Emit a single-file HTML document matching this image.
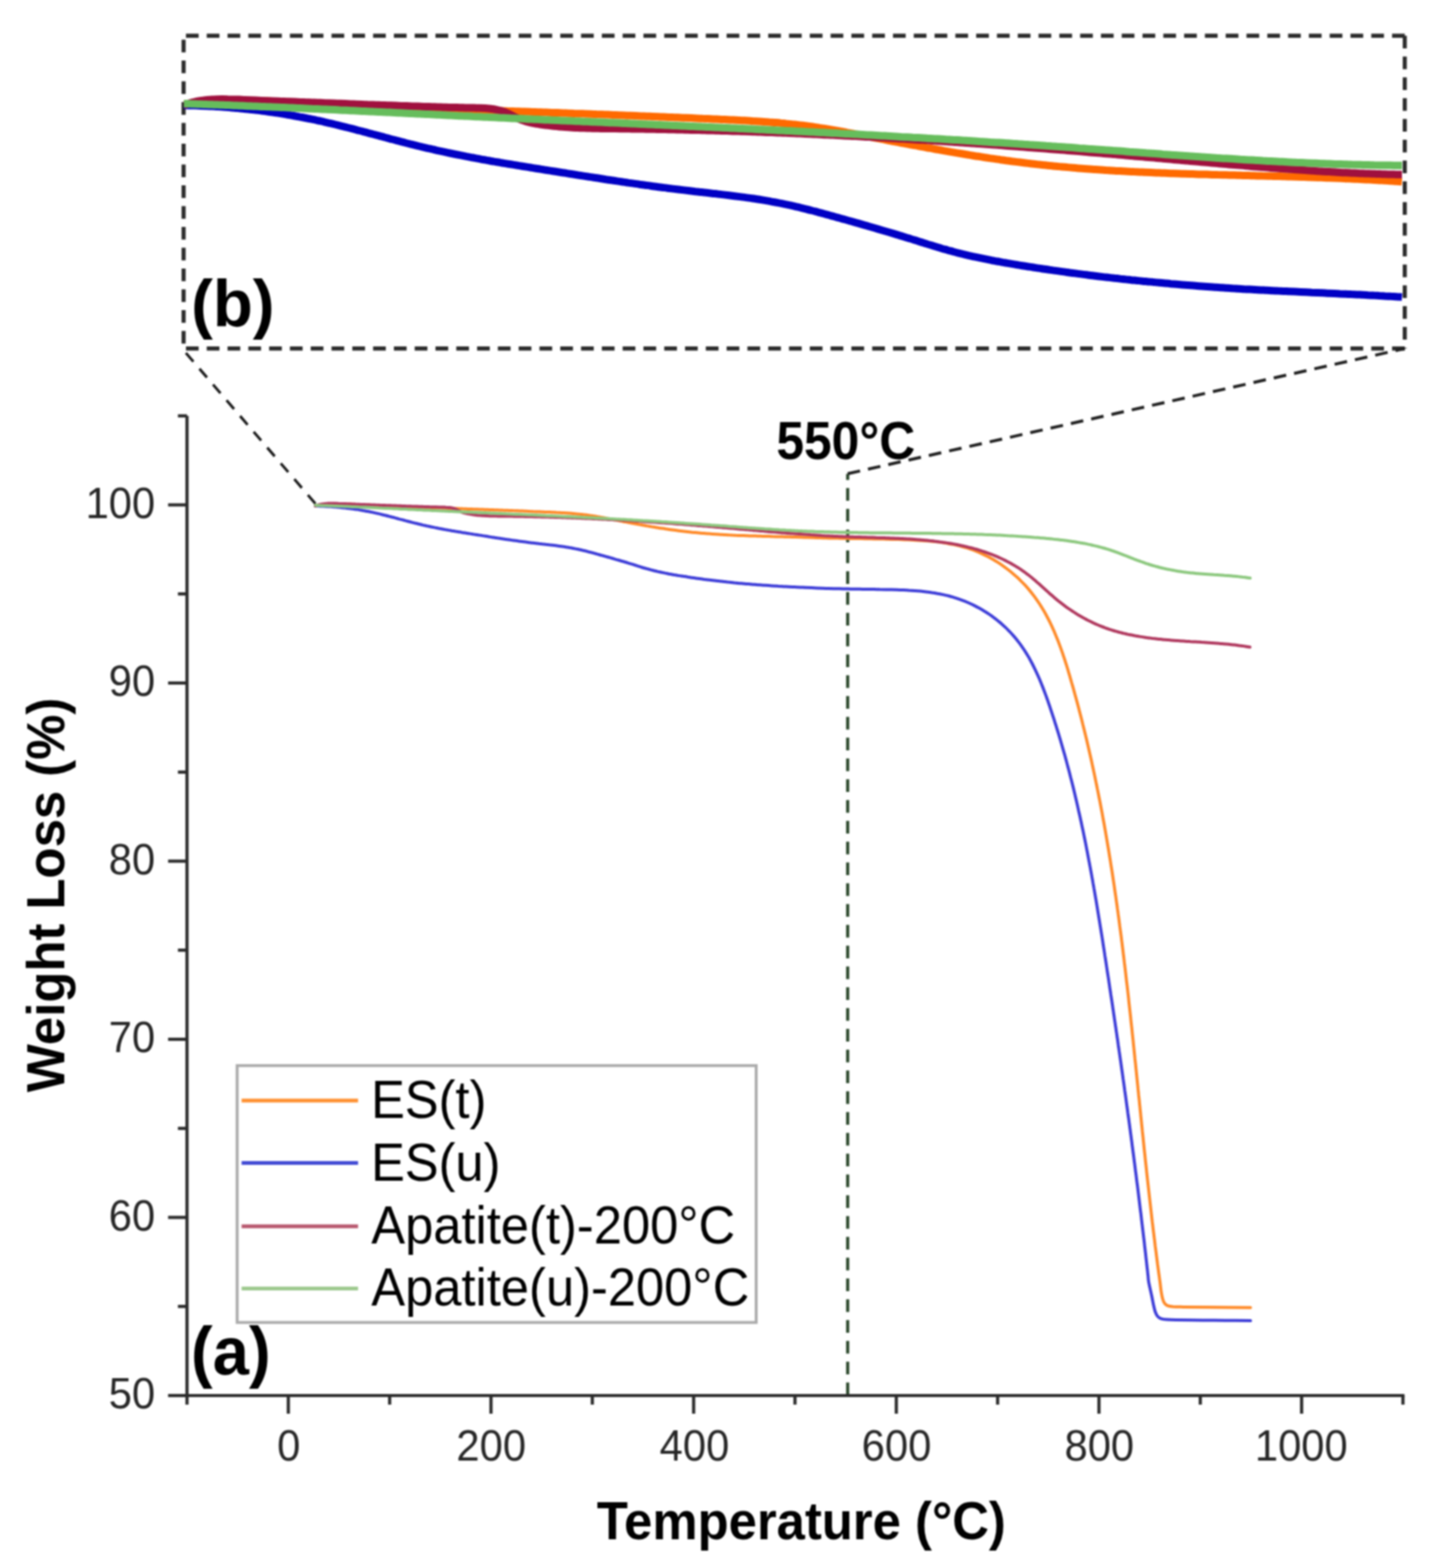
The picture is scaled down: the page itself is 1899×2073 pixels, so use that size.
<!DOCTYPE html>
<html><head><meta charset="utf-8"><title>TGA Weight Loss</title>
<style>
html,body{margin:0;padding:0;background:#fff;}
body{width:1899px;height:2073px;overflow:hidden;}
svg{display:block;filter:blur(1px);}
</style></head><body>
<svg width="1899" height="2073" viewBox="0 0 1899 2073">
<rect x="0" y="0" width="1899" height="2073" fill="#ffffff"/>
<line x1="1857.7" y1="47.2" x2="242.8" y2="47.2" stroke="#2b2b2b" stroke-width="5.4" fill="none" stroke-dasharray="16.8 10.7"/>
<line x1="1857.7" y1="47.2" x2="1857.7" y2="460.8" stroke="#2b2b2b" stroke-width="5.4" fill="none" stroke-dasharray="16.8 10.7"/>
<line x1="1857.7" y1="460.8" x2="242.8" y2="460.8" stroke="#2b2b2b" stroke-width="5.4" fill="none" stroke-dasharray="16.8 10.7"/>
<line x1="242.8" y1="47.2" x2="242.8" y2="460.8" stroke="#2b2b2b" stroke-width="5.4" fill="none" stroke-dasharray="16.8 10.7" stroke-dashoffset="-5.3"/>
<clipPath id="cb"><rect x="242.8" y="47.2" width="1614.9" height="413.6"/></clipPath>
<g clip-path="url(#cb)" fill="none" stroke-width="10" stroke-linejoin="round" stroke-linecap="butt">
<path d="M243.1,138.0 C244.3,137.9 247.9,137.4 250.4,137.1 C252.8,136.7 255.2,136.5 257.7,136.2 C260.1,135.9 262.6,135.7 265.0,135.4 C267.4,135.2 269.9,135.0 272.3,134.8 C274.8,134.6 277.2,134.4 279.6,134.3 C282.1,134.1 284.5,134.0 287.0,133.9 C289.4,133.7 291.9,133.6 294.3,133.5 C296.8,133.4 299.2,133.4 301.7,133.3 C304.1,133.2 306.6,133.2 309.0,133.1 C311.5,133.1 313.9,133.1 316.4,133.1 C318.8,133.1 321.3,133.1 323.7,133.1 C326.2,133.1 328.7,133.1 331.1,133.1 C333.6,133.2 336.0,133.2 338.5,133.2 C340.9,133.3 343.4,133.4 345.9,133.4 C348.3,133.5 350.8,133.6 353.2,133.6 C355.7,133.7 358.2,133.8 360.6,133.9 C363.1,134.0 365.6,134.1 368.0,134.2 C370.5,134.3 372.9,134.4 375.4,134.6 C377.9,134.7 380.3,134.8 382.8,134.9 C385.3,135.0 387.7,135.2 390.2,135.3 C392.6,135.4 395.1,135.5 397.6,135.7 C400.0,135.8 402.5,135.9 405.0,136.1 C407.4,136.2 409.9,136.3 412.3,136.5 C414.8,136.6 417.3,136.7 419.7,136.9 C422.2,137.0 424.7,137.1 427.1,137.2 C429.6,137.4 432.1,137.5 434.5,137.6 C437.0,137.7 439.4,137.9 441.9,138.0 C444.4,138.1 446.8,138.2 449.3,138.3 C451.7,138.5 454.2,138.6 456.7,138.7 C459.1,138.8 461.6,138.9 464.1,139.0 C466.5,139.1 469.0,139.2 471.4,139.4 C473.9,139.5 476.4,139.6 478.8,139.7 C481.3,139.8 483.7,139.9 486.2,140.0 C488.7,140.1 491.1,140.2 493.6,140.3 C496.0,140.4 498.5,140.5 501.0,140.6 C503.4,140.7 505.9,140.8 508.3,140.9 C510.8,141.0 513.3,141.1 515.7,141.2 C518.2,141.3 520.6,141.4 523.1,141.5 C525.6,141.6 528.0,141.7 530.5,141.8 C532.9,141.9 535.4,142.0 537.8,142.1 C540.3,142.2 542.8,142.2 545.2,142.3 C547.7,142.4 550.1,142.5 552.6,142.6 C555.1,142.7 557.5,142.8 560.0,142.9 C562.4,143.0 564.9,143.1 567.4,143.1 C569.8,143.2 572.3,143.3 574.7,143.4 C577.2,143.5 579.7,143.6 582.1,143.7 C584.6,143.8 587.0,143.8 589.5,143.9 C591.9,144.0 594.4,144.1 596.9,144.2 C599.3,144.3 601.8,144.4 604.2,144.4 C606.7,144.5 609.2,144.6 611.6,144.7 C614.1,144.8 616.5,144.9 619.0,145.0 C621.5,145.0 623.9,145.1 626.4,145.2 C628.8,145.3 631.3,145.4 633.8,145.5 C636.2,145.6 638.7,145.6 641.1,145.7 C643.6,145.8 646.0,145.9 648.5,146.0 C651.0,146.1 653.4,146.2 655.9,146.2 C658.3,146.3 660.8,146.4 663.3,146.5 C665.7,146.6 668.2,146.7 670.6,146.8 C673.1,146.8 675.6,146.9 678.0,147.0 C680.5,147.1 682.9,147.2 685.4,147.3 C687.9,147.4 690.3,147.5 692.8,147.5 C695.2,147.6 697.7,147.7 700.2,147.8 C702.6,147.9 705.1,148.0 707.5,148.1 C710.0,148.2 712.5,148.2 714.9,148.3 C717.4,148.4 719.8,148.5 722.3,148.6 C724.8,148.7 727.2,148.8 729.7,148.9 C732.1,149.0 734.6,149.0 737.1,149.1 C739.5,149.2 742.0,149.3 744.5,149.4 C746.9,149.5 749.4,149.6 751.8,149.7 C754.3,149.8 756.8,149.9 759.2,150.0 C761.7,150.0 764.1,150.1 766.6,150.2 C769.1,150.3 771.5,150.4 774.0,150.5 C776.4,150.6 778.9,150.7 781.4,150.8 C783.8,150.9 786.3,151.0 788.7,151.1 C791.2,151.1 793.7,151.2 796.1,151.3 C798.6,151.4 801.0,151.5 803.5,151.6 C806.0,151.7 808.4,151.8 810.9,151.9 C813.4,152.0 815.8,152.1 818.3,152.2 C820.7,152.3 823.2,152.4 825.7,152.5 C828.1,152.6 830.6,152.7 833.0,152.8 C835.5,152.9 838.0,153.0 840.4,153.1 C842.9,153.2 845.3,153.3 847.8,153.4 C850.3,153.5 852.7,153.6 855.2,153.7 C857.7,153.8 860.1,153.9 862.6,154.0 C865.0,154.1 867.5,154.2 870.0,154.3 C872.4,154.4 874.9,154.5 877.3,154.6 C879.8,154.7 882.3,154.8 884.7,154.9 C887.2,155.0 889.6,155.1 892.1,155.2 C894.6,155.3 897.0,155.4 899.5,155.5 C902.0,155.6 904.4,155.7 906.9,155.8 C909.3,155.9 911.8,156.0 914.3,156.1 C916.7,156.2 919.2,156.3 921.6,156.4 C924.1,156.5 926.6,156.6 929.0,156.8 C931.5,156.9 933.9,157.0 936.4,157.1 C938.9,157.2 941.3,157.3 943.8,157.4 C946.3,157.5 948.7,157.6 951.2,157.7 C953.6,157.9 956.1,158.0 958.6,158.1 C961.0,158.2 963.5,158.3 965.9,158.4 C968.4,158.5 970.9,158.7 973.3,158.8 C975.8,158.9 978.2,159.0 980.7,159.2 C983.2,159.3 985.6,159.4 988.1,159.5 C990.5,159.7 993.0,159.8 995.4,160.0 C997.9,160.1 1000.4,160.3 1002.8,160.4 C1005.3,160.6 1007.7,160.8 1010.2,160.9 C1012.6,161.1 1015.1,161.3 1017.5,161.5 C1020.0,161.6 1022.4,161.8 1024.9,162.0 C1027.3,162.2 1029.8,162.4 1032.2,162.7 C1034.7,162.9 1037.1,163.1 1039.6,163.4 C1042.0,163.6 1044.4,163.8 1046.9,164.1 C1049.3,164.4 1051.8,164.6 1054.2,164.9 C1056.6,165.2 1059.1,165.5 1061.5,165.8 C1063.9,166.1 1066.4,166.4 1068.8,166.7 C1071.2,167.1 1073.7,167.4 1076.1,167.8 C1078.5,168.1 1080.9,168.5 1083.4,168.9 C1085.8,169.2 1088.2,169.6 1090.6,170.0 C1093.1,170.4 1095.5,170.8 1097.9,171.2 C1100.3,171.6 1102.7,172.0 1105.2,172.4 C1107.6,172.9 1110.0,173.3 1112.4,173.7 C1114.8,174.2 1117.2,174.6 1119.7,175.1 C1122.1,175.5 1124.5,175.9 1126.9,176.4 C1129.3,176.9 1131.7,177.3 1134.1,177.8 C1136.6,178.2 1139.0,178.7 1141.4,179.2 C1143.8,179.6 1146.2,180.1 1148.6,180.6 C1151.0,181.0 1153.5,181.5 1155.9,182.0 C1158.3,182.4 1160.7,182.9 1163.1,183.4 C1165.5,183.9 1167.9,184.3 1170.4,184.8 C1172.8,185.3 1175.2,185.7 1177.6,186.2 C1180.0,186.6 1182.4,187.1 1184.9,187.6 C1187.3,188.0 1189.7,188.5 1192.1,189.0 C1194.5,189.4 1197.0,189.9 1199.4,190.3 C1201.8,190.8 1204.2,191.2 1206.6,191.7 C1209.1,192.1 1211.5,192.6 1213.9,193.0 C1216.3,193.5 1218.7,193.9 1221.2,194.4 C1223.6,194.8 1226.0,195.3 1228.4,195.7 C1230.9,196.2 1233.3,196.6 1235.7,197.0 C1238.1,197.5 1240.6,197.9 1243.0,198.3 C1245.4,198.7 1247.8,199.2 1250.3,199.6 C1252.7,200.0 1255.1,200.4 1257.5,200.9 C1260.0,201.3 1262.4,201.7 1264.8,202.1 C1267.3,202.5 1269.7,202.9 1272.1,203.3 C1274.6,203.7 1277.0,204.1 1279.4,204.5 C1281.8,204.9 1284.3,205.3 1286.7,205.7 C1289.1,206.1 1291.6,206.5 1294.0,206.8 C1296.4,207.2 1298.9,207.6 1301.3,208.0 C1303.7,208.3 1306.2,208.7 1308.6,209.1 C1311.0,209.4 1313.5,209.8 1315.9,210.1 C1318.3,210.5 1320.8,210.8 1323.2,211.2 C1325.7,211.5 1328.1,211.8 1330.5,212.2 C1333.0,212.5 1335.4,212.8 1337.9,213.2 C1340.3,213.5 1342.7,213.8 1345.2,214.1 C1347.6,214.4 1350.1,214.7 1352.5,215.0 C1354.9,215.3 1357.4,215.6 1359.8,215.9 C1362.3,216.2 1364.7,216.5 1367.2,216.7 C1369.6,217.0 1372.0,217.3 1374.5,217.6 C1376.9,217.8 1379.4,218.1 1381.8,218.3 C1384.3,218.6 1386.7,218.8 1389.2,219.1 C1391.6,219.3 1394.1,219.6 1396.5,219.8 C1399.0,220.0 1401.4,220.3 1403.9,220.5 C1406.3,220.7 1408.8,220.9 1411.2,221.1 C1413.7,221.4 1416.1,221.6 1418.6,221.8 C1421.0,222.0 1423.5,222.2 1425.9,222.4 C1428.4,222.6 1430.8,222.8 1433.3,222.9 C1435.7,223.1 1438.2,223.3 1440.6,223.5 C1443.1,223.7 1445.5,223.8 1448.0,224.0 C1450.4,224.2 1452.9,224.4 1455.4,224.5 C1457.8,224.7 1460.3,224.8 1462.7,225.0 C1465.2,225.1 1467.6,225.3 1470.1,225.4 C1472.5,225.6 1475.0,225.7 1477.5,225.9 C1479.9,226.0 1482.4,226.2 1484.8,226.3 C1487.3,226.4 1489.8,226.6 1492.2,226.7 C1494.7,226.8 1497.1,226.9 1499.6,227.1 C1502.0,227.2 1504.5,227.3 1507.0,227.4 C1509.4,227.5 1511.9,227.7 1514.3,227.8 C1516.8,227.9 1519.3,228.0 1521.7,228.1 C1524.2,228.2 1526.7,228.3 1529.1,228.4 C1531.6,228.5 1534.0,228.6 1536.5,228.7 C1539.0,228.8 1541.4,228.9 1543.9,229.0 C1546.3,229.1 1548.8,229.2 1551.3,229.2 C1553.7,229.3 1556.2,229.4 1558.7,229.5 C1561.1,229.6 1563.6,229.7 1566.0,229.7 C1568.5,229.8 1571.0,229.9 1573.4,230.0 C1575.9,230.1 1578.4,230.1 1580.8,230.2 C1583.3,230.3 1585.8,230.4 1588.2,230.4 C1590.7,230.5 1593.1,230.6 1595.6,230.6 C1598.1,230.7 1600.5,230.8 1603.0,230.9 C1605.5,230.9 1607.9,231.0 1610.4,231.1 C1612.9,231.1 1615.3,231.2 1617.8,231.3 C1620.2,231.3 1622.7,231.4 1625.2,231.4 C1627.6,231.5 1630.1,231.6 1632.6,231.6 C1635.0,231.7 1637.5,231.8 1640.0,231.8 C1642.4,231.9 1644.9,231.9 1647.4,232.0 C1649.8,232.1 1652.3,232.1 1654.7,232.2 C1657.2,232.3 1659.7,232.3 1662.1,232.4 C1664.6,232.4 1667.1,232.5 1669.5,232.6 C1672.0,232.6 1674.5,232.7 1676.9,232.8 C1679.4,232.8 1681.8,232.9 1684.3,232.9 C1686.8,233.0 1689.2,233.1 1691.7,233.1 C1694.2,233.2 1696.6,233.3 1699.1,233.3 C1701.6,233.4 1704.0,233.5 1706.5,233.6 C1708.9,233.6 1711.4,233.7 1713.9,233.8 C1716.3,233.8 1718.8,233.9 1721.3,234.0 C1723.7,234.1 1726.2,234.1 1728.6,234.2 C1731.1,234.3 1733.6,234.4 1736.0,234.5 C1738.5,234.5 1740.9,234.6 1743.4,234.7 C1745.9,234.8 1748.3,234.9 1750.8,235.0 C1753.3,235.1 1755.7,235.2 1758.2,235.3 C1760.6,235.3 1763.1,235.4 1765.5,235.5 C1768.0,235.6 1770.5,235.7 1772.9,235.8 C1775.4,235.9 1777.8,236.0 1780.3,236.2 C1782.8,236.3 1785.2,236.4 1787.7,236.5 C1790.1,236.6 1792.6,236.7 1795.0,236.8 C1797.5,236.9 1800.0,237.1 1802.4,237.2 C1804.9,237.3 1807.3,237.4 1809.8,237.6 C1812.2,237.7 1814.7,237.8 1817.1,238.0 C1819.6,238.1 1822.1,238.2 1824.5,238.4 C1827.0,238.5 1829.4,238.7 1831.9,238.8 C1834.3,239.0 1836.8,239.1 1839.2,239.3 C1841.7,239.5 1844.1,239.6 1846.6,239.8 C1849.0,239.9 1852.7,240.2 1853.9,240.3" stroke="#ff6a00"/>
<path d="M243.2,139.3 C244.5,139.3 248.2,139.3 250.7,139.4 C253.2,139.5 255.6,139.5 258.1,139.6 C260.6,139.7 263.1,139.8 265.6,139.9 C268.1,140.0 270.6,140.1 273.1,140.2 C275.5,140.3 278.0,140.4 280.5,140.6 C283.0,140.7 285.5,140.9 288.0,141.0 C290.5,141.2 292.9,141.4 295.4,141.5 C297.9,141.7 300.4,141.9 302.9,142.1 C305.4,142.3 307.8,142.5 310.3,142.7 C312.8,142.9 315.3,143.2 317.8,143.4 C320.2,143.6 322.7,143.9 325.2,144.2 C327.7,144.4 330.2,144.7 332.6,145.0 C335.1,145.2 337.6,145.5 340.1,145.8 C342.5,146.1 345.0,146.4 347.5,146.8 C349.9,147.1 352.4,147.4 354.9,147.8 C357.4,148.1 359.8,148.5 362.3,148.8 C364.8,149.2 367.2,149.5 369.7,149.9 C372.1,150.3 374.6,150.7 377.1,151.1 C379.5,151.5 382.0,151.9 384.4,152.3 C386.9,152.8 389.3,153.2 391.8,153.7 C394.2,154.1 396.7,154.6 399.1,155.0 C401.6,155.5 404.0,156.0 406.5,156.5 C408.9,156.9 411.3,157.4 413.8,157.9 C416.2,158.5 418.7,159.0 421.1,159.5 C423.5,160.0 425.9,160.6 428.4,161.1 C430.8,161.7 433.2,162.2 435.7,162.8 C438.1,163.4 440.5,163.9 442.9,164.5 C445.3,165.1 447.8,165.7 450.2,166.3 C452.6,166.9 455.0,167.5 457.4,168.1 C459.8,168.7 462.2,169.3 464.6,169.9 C467.1,170.6 469.5,171.2 471.9,171.8 C474.3,172.4 476.7,173.1 479.1,173.7 C481.5,174.3 483.9,175.0 486.3,175.6 C488.7,176.2 491.1,176.9 493.5,177.5 C495.9,178.2 498.3,178.8 500.8,179.4 C503.2,180.1 505.6,180.7 508.0,181.4 C510.4,182.0 512.8,182.7 515.2,183.3 C517.6,183.9 520.0,184.6 522.4,185.2 C524.8,185.8 527.2,186.5 529.6,187.1 C532.0,187.7 534.4,188.3 536.8,189.0 C539.3,189.6 541.7,190.2 544.1,190.8 C546.5,191.4 548.9,192.0 551.3,192.6 C553.7,193.2 556.2,193.8 558.6,194.4 C561.0,194.9 563.4,195.5 565.8,196.1 C568.3,196.6 570.7,197.2 573.1,197.7 C575.5,198.3 578.0,198.8 580.4,199.4 C582.8,199.9 585.2,200.4 587.7,200.9 C590.1,201.5 592.5,202.0 595.0,202.5 C597.4,203.0 599.8,203.5 602.3,204.0 C604.7,204.5 607.2,205.0 609.6,205.4 C612.0,205.9 614.5,206.4 616.9,206.9 C619.4,207.3 621.8,207.8 624.3,208.3 C626.7,208.7 629.1,209.2 631.6,209.6 C634.0,210.1 636.5,210.5 638.9,211.0 C641.4,211.4 643.8,211.9 646.3,212.3 C648.7,212.7 651.2,213.1 653.6,213.6 C656.1,214.0 658.5,214.4 661.0,214.8 C663.5,215.3 665.9,215.7 668.4,216.1 C670.8,216.5 673.3,216.9 675.7,217.3 C678.2,217.7 680.6,218.1 683.1,218.5 C685.6,218.9 688.0,219.3 690.5,219.7 C692.9,220.1 695.4,220.5 697.9,220.9 C700.3,221.3 702.8,221.7 705.2,222.1 C707.7,222.5 710.1,222.9 712.6,223.3 C715.1,223.7 717.5,224.1 720.0,224.5 C722.4,224.8 724.9,225.2 727.4,225.6 C729.8,226.0 732.3,226.4 734.7,226.8 C737.2,227.2 739.7,227.6 742.1,228.0 C744.6,228.4 747.0,228.7 749.5,229.1 C752.0,229.5 754.4,229.9 756.9,230.3 C759.3,230.7 761.8,231.1 764.3,231.5 C766.7,231.8 769.2,232.2 771.6,232.6 C774.1,233.0 776.6,233.4 779.0,233.8 C781.5,234.1 783.9,234.5 786.4,234.9 C788.9,235.3 791.3,235.7 793.8,236.0 C796.2,236.4 798.7,236.8 801.2,237.2 C803.6,237.5 806.1,237.9 808.6,238.3 C811.0,238.6 813.5,239.0 815.9,239.4 C818.4,239.7 820.9,240.1 823.3,240.5 C825.8,240.8 828.2,241.2 830.7,241.6 C833.2,241.9 835.6,242.3 838.1,242.6 C840.6,243.0 843.0,243.3 845.5,243.7 C848.0,244.0 850.4,244.4 852.9,244.7 C855.3,245.0 857.8,245.4 860.3,245.7 C862.7,246.1 865.2,246.4 867.7,246.7 C870.1,247.1 872.6,247.4 875.1,247.7 C877.5,248.0 880.0,248.4 882.5,248.7 C884.9,249.0 887.4,249.3 889.9,249.6 C892.3,249.9 894.8,250.2 897.3,250.5 C899.7,250.8 902.2,251.1 904.7,251.4 C907.1,251.7 909.6,252.0 912.1,252.3 C914.5,252.6 917.0,252.9 919.5,253.2 C922.0,253.4 924.4,253.7 926.9,254.0 C929.4,254.3 931.8,254.6 934.3,254.8 C936.8,255.1 939.2,255.4 941.7,255.7 C944.2,256.0 946.7,256.2 949.1,256.5 C951.6,256.8 954.1,257.1 956.5,257.4 C959.0,257.7 961.5,258.0 963.9,258.3 C966.4,258.6 968.9,258.9 971.3,259.2 C973.8,259.5 976.3,259.8 978.7,260.1 C981.2,260.4 983.7,260.8 986.1,261.1 C988.6,261.4 991.0,261.8 993.5,262.1 C996.0,262.5 998.4,262.9 1000.9,263.2 C1003.3,263.6 1005.8,264.0 1008.2,264.4 C1010.7,264.8 1013.2,265.2 1015.6,265.6 C1018.1,266.1 1020.5,266.5 1023.0,267.0 C1025.4,267.4 1027.8,267.9 1030.3,268.4 C1032.7,268.8 1035.2,269.3 1037.6,269.9 C1040.1,270.4 1042.5,270.9 1044.9,271.4 C1047.4,272.0 1049.8,272.5 1052.2,273.1 C1054.7,273.7 1057.1,274.3 1059.5,274.8 C1062.0,275.4 1064.4,276.0 1066.8,276.6 C1069.2,277.3 1071.6,277.9 1074.1,278.5 C1076.5,279.1 1078.9,279.8 1081.3,280.4 C1083.7,281.0 1086.2,281.7 1088.6,282.3 C1091.0,283.0 1093.4,283.6 1095.8,284.3 C1098.2,285.0 1100.6,285.6 1103.0,286.3 C1105.4,287.0 1107.8,287.6 1110.2,288.3 C1112.6,289.0 1115.0,289.6 1117.4,290.3 C1119.8,291.0 1122.2,291.7 1124.6,292.3 C1127.0,293.0 1129.4,293.7 1131.8,294.4 C1134.1,295.0 1136.5,295.7 1138.9,296.4 C1141.3,297.1 1143.7,297.8 1146.1,298.4 C1148.5,299.1 1150.8,299.8 1153.2,300.5 C1155.6,301.2 1158.0,301.9 1160.4,302.6 C1162.7,303.3 1165.1,304.0 1167.5,304.7 C1169.9,305.4 1172.3,306.1 1174.6,306.8 C1177.0,307.5 1179.4,308.2 1181.8,308.9 C1184.1,309.6 1186.5,310.3 1188.9,311.1 C1191.3,311.8 1193.6,312.5 1196.0,313.2 C1198.4,314.0 1200.8,314.7 1203.2,315.4 C1205.5,316.2 1207.9,316.9 1210.3,317.6 C1212.7,318.4 1215.0,319.1 1217.4,319.9 C1219.8,320.6 1222.2,321.4 1224.6,322.1 C1226.9,322.9 1229.3,323.6 1231.7,324.3 C1234.1,325.1 1236.5,325.8 1238.9,326.5 C1241.3,327.2 1243.6,328.0 1246.0,328.7 C1248.4,329.4 1250.8,330.0 1253.2,330.7 C1255.6,331.4 1258.0,332.0 1260.4,332.7 C1262.8,333.3 1265.3,333.9 1267.7,334.6 C1270.1,335.2 1272.5,335.8 1274.9,336.3 C1277.3,336.9 1279.7,337.5 1282.2,338.1 C1284.6,338.6 1287.0,339.2 1289.5,339.7 C1291.9,340.2 1294.3,340.7 1296.7,341.2 C1299.2,341.7 1301.6,342.2 1304.1,342.7 C1306.5,343.2 1308.9,343.7 1311.4,344.2 C1313.8,344.6 1316.3,345.1 1318.7,345.5 C1321.1,346.0 1323.6,346.4 1326.0,346.9 C1328.5,347.3 1330.9,347.7 1333.4,348.1 C1335.8,348.6 1338.3,349.0 1340.8,349.4 C1343.2,349.8 1345.7,350.2 1348.1,350.6 C1350.6,351.0 1353.0,351.4 1355.5,351.8 C1357.9,352.2 1360.4,352.6 1362.9,352.9 C1365.3,353.3 1367.8,353.7 1370.2,354.1 C1372.7,354.5 1375.2,354.8 1377.6,355.2 C1380.1,355.6 1382.5,355.9 1385.0,356.3 C1387.5,356.7 1389.9,357.0 1392.4,357.4 C1394.9,357.7 1397.3,358.1 1399.8,358.4 C1402.3,358.8 1404.7,359.1 1407.2,359.4 C1409.7,359.8 1412.1,360.1 1414.6,360.5 C1417.1,360.8 1419.5,361.1 1422.0,361.4 C1424.5,361.8 1426.9,362.1 1429.4,362.4 C1431.9,362.7 1434.3,363.0 1436.8,363.3 C1439.3,363.7 1441.8,364.0 1444.2,364.3 C1446.7,364.6 1449.2,364.9 1451.6,365.2 C1454.1,365.5 1456.6,365.8 1459.1,366.1 C1461.5,366.4 1464.0,366.6 1466.5,366.9 C1469.0,367.2 1471.4,367.5 1473.9,367.8 C1476.4,368.0 1478.9,368.3 1481.3,368.6 C1483.8,368.9 1486.3,369.1 1488.8,369.4 C1491.3,369.7 1493.7,369.9 1496.2,370.2 C1498.7,370.4 1501.2,370.7 1503.6,370.9 C1506.1,371.2 1508.6,371.5 1511.1,371.7 C1513.6,371.9 1516.0,372.2 1518.5,372.4 C1521.0,372.7 1523.5,372.9 1526.0,373.1 C1528.4,373.4 1530.9,373.6 1533.4,373.8 C1535.9,374.1 1538.4,374.3 1540.9,374.5 C1543.3,374.7 1545.8,374.9 1548.3,375.2 C1550.8,375.4 1553.3,375.6 1555.8,375.8 C1558.2,376.0 1560.7,376.2 1563.2,376.4 C1565.7,376.6 1568.2,376.8 1570.6,377.0 C1573.1,377.2 1575.6,377.4 1578.1,377.6 C1580.6,377.8 1583.1,378.0 1585.6,378.2 C1588.0,378.4 1590.5,378.6 1593.0,378.7 C1595.5,378.9 1598.0,379.1 1600.5,379.3 C1602.9,379.5 1605.4,379.6 1607.9,379.8 C1610.4,380.0 1612.9,380.1 1615.4,380.3 C1617.9,380.5 1620.3,380.6 1622.8,380.8 C1625.3,381.0 1627.8,381.1 1630.3,381.3 C1632.8,381.4 1635.2,381.6 1637.7,381.7 C1640.2,381.9 1642.7,382.0 1645.2,382.2 C1647.7,382.3 1650.2,382.5 1652.6,382.6 C1655.1,382.7 1657.6,382.9 1660.1,383.0 C1662.6,383.2 1665.1,383.3 1667.6,383.4 C1670.0,383.5 1672.5,383.7 1675.0,383.8 C1677.5,383.9 1680.0,384.1 1682.5,384.2 C1684.9,384.3 1687.4,384.4 1689.9,384.6 C1692.4,384.7 1694.9,384.8 1697.4,384.9 C1699.9,385.0 1702.3,385.2 1704.8,385.3 C1707.3,385.4 1709.8,385.5 1712.3,385.6 C1714.8,385.7 1717.3,385.9 1719.7,386.0 C1722.2,386.1 1724.7,386.2 1727.2,386.3 C1729.7,386.4 1732.2,386.5 1734.6,386.7 C1737.1,386.8 1739.6,386.9 1742.1,387.0 C1744.6,387.1 1747.1,387.2 1749.6,387.3 C1752.0,387.4 1754.5,387.6 1757.0,387.7 C1759.5,387.8 1762.0,387.9 1764.5,388.0 C1767.0,388.1 1769.4,388.2 1771.9,388.4 C1774.4,388.5 1776.9,388.6 1779.4,388.7 C1781.9,388.8 1784.4,388.9 1786.9,389.1 C1789.3,389.2 1791.8,389.3 1794.3,389.4 C1796.8,389.5 1799.3,389.7 1801.8,389.8 C1804.3,389.9 1806.8,390.0 1809.2,390.2 C1811.7,390.3 1814.2,390.4 1816.7,390.6 C1819.2,390.7 1821.7,390.8 1824.2,391.0 C1826.7,391.1 1829.1,391.2 1831.6,391.4 C1834.1,391.5 1836.6,391.6 1839.1,391.8 C1841.6,391.9 1844.1,392.1 1846.6,392.2 C1849.1,392.4 1852.8,392.6 1854.0,392.7" stroke="#0000c4"/>
<path d="M243.1,139.0 C244.3,138.6 247.8,137.3 250.2,136.6 C252.5,135.9 254.9,135.2 257.3,134.7 C259.7,134.1 262.1,133.7 264.5,133.3 C266.9,132.9 269.3,132.5 271.7,132.2 C274.1,132.0 276.6,131.7 279.0,131.6 C281.5,131.4 283.9,131.3 286.4,131.2 C288.8,131.1 291.3,131.1 293.8,131.1 C296.2,131.1 298.7,131.1 301.2,131.2 C303.7,131.2 306.1,131.3 308.6,131.4 C311.1,131.4 313.6,131.5 316.1,131.6 C318.5,131.7 321.0,131.9 323.5,132.0 C326.0,132.1 328.5,132.2 330.9,132.3 C333.4,132.4 335.9,132.5 338.3,132.6 C340.8,132.7 343.3,132.8 345.8,132.9 C348.2,133.0 350.7,133.1 353.2,133.2 C355.6,133.3 358.1,133.4 360.6,133.5 C363.0,133.6 365.5,133.7 368.0,133.8 C370.4,133.9 372.9,133.9 375.4,134.0 C377.8,134.1 380.3,134.2 382.7,134.3 C385.2,134.4 387.7,134.5 390.1,134.6 C392.6,134.7 395.0,134.8 397.5,134.9 C400.0,135.0 402.4,135.1 404.9,135.2 C407.3,135.3 409.8,135.3 412.3,135.4 C414.7,135.5 417.2,135.6 419.6,135.7 C422.1,135.8 424.5,135.9 427.0,136.0 C429.5,136.1 431.9,136.2 434.4,136.3 C436.8,136.4 439.3,136.5 441.8,136.6 C444.2,136.7 446.7,136.8 449.1,136.8 C451.6,136.9 454.1,137.0 456.5,137.1 C459.0,137.2 461.4,137.3 463.9,137.4 C466.4,137.5 468.8,137.6 471.3,137.7 C473.7,137.8 476.2,137.9 478.7,138.0 C481.1,138.1 483.6,138.2 486.0,138.3 C488.5,138.3 491.0,138.4 493.4,138.5 C495.9,138.6 498.3,138.7 500.8,138.8 C503.3,138.9 505.7,139.0 508.2,139.1 C510.7,139.2 513.1,139.3 515.6,139.3 C518.0,139.4 520.5,139.5 523.0,139.6 C525.4,139.7 527.9,139.8 530.4,139.9 C532.8,140.0 535.3,140.0 537.8,140.1 C540.2,140.2 542.7,140.3 545.2,140.4 C547.6,140.5 550.1,140.5 552.6,140.6 C555.0,140.7 557.5,140.8 560.0,140.9 C562.4,140.9 564.9,141.0 567.4,141.1 C569.8,141.2 572.3,141.2 574.8,141.3 C577.2,141.4 579.7,141.5 582.2,141.5 C584.6,141.6 587.1,141.7 589.6,141.7 C592.1,141.8 594.5,141.9 597.0,141.9 C599.5,142.0 602.0,142.1 604.4,142.1 C606.9,142.2 609.4,142.2 611.8,142.3 C614.3,142.4 616.8,142.4 619.3,142.5 C621.8,142.5 624.2,142.6 626.7,142.6 C629.2,142.7 631.7,142.7 634.1,142.8 C636.6,142.9 639.1,143.0 641.5,143.1 C644.0,143.3 646.4,143.4 648.8,143.7 C651.3,144.0 653.7,144.3 656.0,144.8 C658.4,145.3 660.7,145.8 663.0,146.5 C665.3,147.2 667.6,148.1 669.8,149.0 C672.0,150.0 674.2,151.1 676.4,152.2 C678.6,153.3 680.8,154.5 683.0,155.6 C685.2,156.6 687.4,157.7 689.6,158.6 C691.9,159.5 694.2,160.2 696.5,160.9 C698.8,161.5 701.2,162.1 703.5,162.6 C705.9,163.1 708.3,163.5 710.6,163.9 C713.0,164.3 715.4,164.6 717.8,165.0 C720.2,165.3 722.6,165.6 725.0,165.9 C727.4,166.2 729.9,166.5 732.3,166.8 C734.7,167.0 737.1,167.2 739.6,167.5 C742.0,167.7 744.4,167.9 746.9,168.0 C749.3,168.2 751.7,168.4 754.2,168.5 C756.6,168.7 759.1,168.8 761.5,168.9 C764.0,169.0 766.4,169.2 768.9,169.2 C771.4,169.3 773.8,169.4 776.3,169.5 C778.8,169.6 781.2,169.6 783.7,169.7 C786.2,169.8 788.6,169.8 791.1,169.8 C793.6,169.9 796.0,169.9 798.5,170.0 C801.0,170.0 803.5,170.0 805.9,170.1 C808.4,170.1 810.9,170.1 813.4,170.1 C815.8,170.2 818.3,170.2 820.8,170.2 C823.3,170.2 825.7,170.3 828.2,170.3 C830.7,170.3 833.2,170.4 835.6,170.4 C838.1,170.4 840.6,170.5 843.1,170.5 C845.5,170.5 848.0,170.6 850.5,170.6 C853.0,170.6 855.4,170.7 857.9,170.7 C860.4,170.8 862.8,170.8 865.3,170.8 C867.8,170.9 870.3,170.9 872.7,171.0 C875.2,171.0 877.7,171.1 880.1,171.1 C882.6,171.2 885.1,171.2 887.6,171.3 C890.0,171.3 892.5,171.4 895.0,171.4 C897.4,171.5 899.9,171.5 902.4,171.6 C904.8,171.6 907.3,171.7 909.8,171.7 C912.2,171.8 914.7,171.9 917.2,171.9 C919.7,172.0 922.1,172.0 924.6,172.1 C927.1,172.2 929.5,172.2 932.0,172.3 C934.5,172.4 936.9,172.4 939.4,172.5 C941.9,172.6 944.3,172.6 946.8,172.7 C949.3,172.8 951.7,172.8 954.2,172.9 C956.7,173.0 959.1,173.1 961.6,173.1 C964.1,173.2 966.5,173.3 969.0,173.4 C971.4,173.4 973.9,173.5 976.4,173.6 C978.8,173.7 981.3,173.8 983.8,173.8 C986.2,173.9 988.7,174.0 991.2,174.1 C993.6,174.2 996.1,174.3 998.6,174.3 C1001.0,174.4 1003.5,174.5 1005.9,174.6 C1008.4,174.7 1010.9,174.8 1013.3,174.9 C1015.8,175.0 1018.3,175.1 1020.7,175.1 C1023.2,175.2 1025.6,175.3 1028.1,175.4 C1030.6,175.5 1033.0,175.6 1035.5,175.7 C1038.0,175.8 1040.4,175.9 1042.9,176.0 C1045.3,176.1 1047.8,176.2 1050.3,176.3 C1052.7,176.4 1055.2,176.5 1057.6,176.6 C1060.1,176.7 1062.6,176.8 1065.0,177.0 C1067.5,177.1 1070.0,177.2 1072.4,177.3 C1074.9,177.4 1077.3,177.5 1079.8,177.6 C1082.3,177.7 1084.7,177.8 1087.2,177.9 C1089.6,178.1 1092.1,178.2 1094.6,178.3 C1097.0,178.4 1099.5,178.5 1101.9,178.6 C1104.4,178.8 1106.9,178.9 1109.3,179.0 C1111.8,179.1 1114.2,179.2 1116.7,179.4 C1119.1,179.5 1121.6,179.6 1124.1,179.7 C1126.5,179.9 1129.0,180.0 1131.4,180.1 C1133.9,180.2 1136.4,180.4 1138.8,180.5 C1141.3,180.6 1143.7,180.8 1146.2,180.9 C1148.7,181.0 1151.1,181.2 1153.6,181.3 C1156.0,181.4 1158.5,181.6 1160.9,181.7 C1163.4,181.8 1165.9,182.0 1168.3,182.1 C1170.8,182.2 1173.2,182.4 1175.7,182.5 C1178.2,182.7 1180.6,182.8 1183.1,182.9 C1185.5,183.1 1188.0,183.2 1190.4,183.4 C1192.9,183.5 1195.4,183.7 1197.8,183.8 C1200.3,184.0 1202.7,184.1 1205.2,184.2 C1207.6,184.4 1210.1,184.5 1212.6,184.7 C1215.0,184.8 1217.5,185.0 1219.9,185.1 C1222.4,185.3 1224.9,185.5 1227.3,185.6 C1229.8,185.8 1232.2,185.9 1234.7,186.1 C1237.1,186.2 1239.6,186.4 1242.1,186.5 C1244.5,186.7 1247.0,186.9 1249.4,187.0 C1251.9,187.2 1254.3,187.3 1256.8,187.5 C1259.3,187.7 1261.7,187.8 1264.2,188.0 C1266.6,188.2 1269.1,188.3 1271.6,188.5 C1274.0,188.7 1276.5,188.8 1278.9,189.0 C1281.4,189.2 1283.8,189.3 1286.3,189.5 C1288.8,189.7 1291.2,189.8 1293.7,190.0 C1296.1,190.2 1298.6,190.4 1301.0,190.5 C1303.5,190.7 1306.0,190.9 1308.4,191.1 C1310.9,191.2 1313.3,191.4 1315.8,191.6 C1318.3,191.8 1320.7,191.9 1323.2,192.1 C1325.6,192.3 1328.1,192.5 1330.6,192.7 C1333.0,192.8 1335.5,193.0 1337.9,193.2 C1340.4,193.4 1342.8,193.6 1345.3,193.8 C1347.8,193.9 1350.2,194.1 1352.7,194.3 C1355.1,194.5 1357.6,194.7 1360.1,194.9 C1362.5,195.1 1365.0,195.3 1367.4,195.4 C1369.9,195.6 1372.3,195.8 1374.8,196.0 C1377.3,196.2 1379.7,196.4 1382.2,196.6 C1384.6,196.8 1387.1,197.0 1389.6,197.2 C1392.0,197.4 1394.5,197.6 1396.9,197.8 C1399.4,198.0 1401.9,198.1 1404.3,198.3 C1406.8,198.5 1409.2,198.7 1411.7,198.9 C1414.1,199.1 1416.6,199.3 1419.1,199.5 C1421.5,199.7 1424.0,199.9 1426.4,200.1 C1428.9,200.3 1431.4,200.5 1433.8,200.7 C1436.3,201.0 1438.7,201.2 1441.2,201.4 C1443.6,201.6 1446.1,201.8 1448.6,202.0 C1451.0,202.2 1453.5,202.4 1455.9,202.6 C1458.4,202.8 1460.8,203.0 1463.3,203.2 C1465.8,203.4 1468.2,203.6 1470.7,203.8 C1473.1,204.0 1475.6,204.3 1478.0,204.5 C1480.5,204.7 1483.0,204.9 1485.4,205.1 C1487.9,205.3 1490.3,205.5 1492.8,205.7 C1495.2,205.9 1497.7,206.2 1500.1,206.4 C1502.6,206.6 1505.1,206.8 1507.5,207.0 C1510.0,207.2 1512.4,207.4 1514.9,207.7 C1517.3,207.9 1519.8,208.1 1522.2,208.3 C1524.7,208.5 1527.2,208.7 1529.6,209.0 C1532.1,209.2 1534.5,209.4 1537.0,209.6 C1539.4,209.8 1541.9,210.0 1544.3,210.3 C1546.8,210.5 1549.2,210.7 1551.7,210.9 C1554.2,211.1 1556.6,211.4 1559.1,211.6 C1561.5,211.8 1564.0,212.0 1566.4,212.2 C1568.9,212.4 1571.3,212.7 1573.8,212.9 C1576.2,213.1 1578.7,213.3 1581.1,213.5 C1583.6,213.8 1586.0,214.0 1588.5,214.2 C1591.0,214.4 1593.4,214.6 1595.9,214.8 C1598.3,215.1 1600.8,215.3 1603.2,215.5 C1605.7,215.7 1608.1,215.9 1610.6,216.1 C1613.0,216.3 1615.5,216.5 1617.9,216.8 C1620.4,217.0 1622.8,217.2 1625.3,217.4 C1627.7,217.6 1630.2,217.8 1632.7,218.0 C1635.1,218.2 1637.6,218.4 1640.0,218.6 C1642.5,218.8 1644.9,219.0 1647.4,219.3 C1649.8,219.5 1652.3,219.7 1654.7,219.9 C1657.2,220.1 1659.6,220.3 1662.1,220.5 C1664.5,220.6 1667.0,220.8 1669.5,221.0 C1671.9,221.2 1674.4,221.4 1676.8,221.6 C1679.3,221.8 1681.7,222.0 1684.2,222.2 C1686.6,222.4 1689.1,222.6 1691.5,222.7 C1694.0,222.9 1696.5,223.1 1698.9,223.3 C1701.4,223.5 1703.8,223.6 1706.3,223.8 C1708.7,224.0 1711.2,224.2 1713.6,224.3 C1716.1,224.5 1718.6,224.7 1721.0,224.8 C1723.5,225.0 1725.9,225.2 1728.4,225.3 C1730.8,225.5 1733.3,225.6 1735.8,225.8 C1738.2,226.0 1740.7,226.1 1743.1,226.3 C1745.6,226.4 1748.0,226.6 1750.5,226.7 C1753.0,226.8 1755.4,227.0 1757.9,227.1 C1760.3,227.3 1762.8,227.4 1765.3,227.5 C1767.7,227.7 1770.2,227.8 1772.6,227.9 C1775.1,228.1 1777.6,228.2 1780.0,228.3 C1782.5,228.4 1785.0,228.5 1787.4,228.7 C1789.9,228.8 1792.3,228.9 1794.8,229.0 C1797.3,229.1 1799.7,229.2 1802.2,229.3 C1804.7,229.4 1807.1,229.5 1809.6,229.6 C1812.1,229.7 1814.5,229.8 1817.0,229.8 C1819.5,229.9 1821.9,230.0 1824.4,230.1 C1826.9,230.2 1829.3,230.2 1831.8,230.3 C1834.3,230.4 1836.7,230.4 1839.2,230.5 C1841.7,230.6 1844.1,230.6 1846.6,230.7 C1849.1,230.7 1852.8,230.8 1854.0,230.8" stroke="#a0103e"/>
<path d="M243.2,137.1 C244.4,137.1 248.1,137.2 250.5,137.3 C253.0,137.4 255.5,137.5 257.9,137.5 C260.4,137.6 262.8,137.7 265.3,137.8 C267.7,137.9 270.2,138.0 272.6,138.0 C275.1,138.1 277.5,138.2 280.0,138.3 C282.4,138.4 284.9,138.5 287.3,138.6 C289.8,138.7 292.2,138.7 294.7,138.8 C297.1,138.9 299.6,139.0 302.0,139.1 C304.5,139.2 306.9,139.3 309.4,139.4 C311.8,139.5 314.3,139.6 316.7,139.7 C319.2,139.8 321.6,139.9 324.1,140.0 C326.5,140.1 329.0,140.2 331.4,140.3 C333.9,140.4 336.3,140.5 338.8,140.6 C341.2,140.7 343.7,140.8 346.1,140.9 C348.6,141.0 351.0,141.1 353.5,141.2 C355.9,141.3 358.4,141.4 360.8,141.5 C363.3,141.6 365.8,141.7 368.2,141.8 C370.7,141.9 373.1,142.0 375.6,142.1 C378.0,142.2 380.5,142.3 382.9,142.4 C385.4,142.5 387.8,142.7 390.3,142.8 C392.7,142.9 395.2,143.0 397.6,143.1 C400.1,143.2 402.5,143.3 405.0,143.4 C407.4,143.5 409.9,143.6 412.3,143.8 C414.8,143.9 417.2,144.0 419.7,144.1 C422.1,144.2 424.6,144.3 427.0,144.4 C429.5,144.5 431.9,144.7 434.4,144.8 C436.8,144.9 439.3,145.0 441.8,145.1 C444.2,145.2 446.7,145.3 449.1,145.5 C451.6,145.6 454.0,145.7 456.5,145.8 C458.9,145.9 461.4,146.0 463.8,146.2 C466.3,146.3 468.7,146.4 471.2,146.5 C473.6,146.6 476.1,146.7 478.5,146.9 C481.0,147.0 483.4,147.1 485.9,147.2 C488.3,147.3 490.8,147.4 493.2,147.6 C495.7,147.7 498.1,147.8 500.6,147.9 C503.0,148.0 505.5,148.2 508.0,148.3 C510.4,148.4 512.9,148.5 515.3,148.6 C517.8,148.8 520.2,148.9 522.7,149.0 C525.1,149.1 527.6,149.2 530.0,149.3 C532.5,149.5 534.9,149.6 537.4,149.7 C539.8,149.8 542.3,149.9 544.7,150.1 C547.2,150.2 549.6,150.3 552.1,150.4 C554.5,150.5 557.0,150.7 559.5,150.8 C561.9,150.9 564.4,151.0 566.8,151.1 C569.3,151.3 571.7,151.4 574.2,151.5 C576.6,151.6 579.1,151.7 581.5,151.8 C584.0,152.0 586.4,152.1 588.9,152.2 C591.3,152.3 593.8,152.4 596.2,152.6 C598.7,152.7 601.1,152.8 603.6,152.9 C606.0,153.0 608.5,153.1 611.0,153.3 C613.4,153.4 615.9,153.5 618.3,153.6 C620.8,153.7 623.2,153.8 625.7,154.0 C628.1,154.1 630.6,154.2 633.0,154.3 C635.5,154.4 637.9,154.5 640.4,154.7 C642.8,154.8 645.3,154.9 647.7,155.0 C650.2,155.1 652.7,155.2 655.1,155.3 C657.6,155.5 660.0,155.6 662.5,155.7 C664.9,155.8 667.4,155.9 669.8,156.0 C672.3,156.1 674.7,156.2 677.2,156.4 C679.6,156.5 682.1,156.6 684.5,156.7 C687.0,156.8 689.4,156.9 691.9,157.0 C694.4,157.1 696.8,157.3 699.3,157.4 C701.7,157.5 704.2,157.6 706.6,157.7 C709.1,157.8 711.5,157.9 714.0,158.0 C716.4,158.1 718.9,158.3 721.3,158.4 C723.8,158.5 726.2,158.6 728.7,158.7 C731.1,158.8 733.6,158.9 736.1,159.0 C738.5,159.1 741.0,159.2 743.4,159.4 C745.9,159.5 748.3,159.6 750.8,159.7 C753.2,159.8 755.7,159.9 758.1,160.0 C760.6,160.1 763.0,160.2 765.5,160.3 C767.9,160.4 770.4,160.6 772.9,160.7 C775.3,160.8 777.8,160.9 780.2,161.0 C782.7,161.1 785.1,161.2 787.6,161.3 C790.0,161.4 792.5,161.5 794.9,161.6 C797.4,161.7 799.8,161.9 802.3,162.0 C804.7,162.1 807.2,162.2 809.6,162.3 C812.1,162.4 814.6,162.5 817.0,162.6 C819.5,162.7 821.9,162.8 824.4,162.9 C826.8,163.0 829.3,163.2 831.7,163.3 C834.2,163.4 836.6,163.5 839.1,163.6 C841.5,163.7 844.0,163.8 846.4,163.9 C848.9,164.0 851.4,164.1 853.8,164.2 C856.3,164.4 858.7,164.5 861.2,164.6 C863.6,164.7 866.1,164.8 868.5,164.9 C871.0,165.0 873.4,165.1 875.9,165.2 C878.3,165.3 880.8,165.4 883.2,165.6 C885.7,165.7 888.2,165.8 890.6,165.9 C893.1,166.0 895.5,166.1 898.0,166.2 C900.4,166.3 902.9,166.4 905.3,166.6 C907.8,166.7 910.2,166.8 912.7,166.9 C915.1,167.0 917.6,167.1 920.0,167.2 C922.5,167.3 924.9,167.4 927.4,167.6 C929.9,167.7 932.3,167.8 934.8,167.9 C937.2,168.0 939.7,168.1 942.1,168.2 C944.6,168.3 947.0,168.4 949.5,168.6 C951.9,168.7 954.4,168.8 956.8,168.9 C959.3,169.0 961.7,169.1 964.2,169.2 C966.6,169.4 969.1,169.5 971.5,169.6 C974.0,169.7 976.5,169.8 978.9,169.9 C981.4,170.0 983.8,170.2 986.3,170.3 C988.7,170.4 991.2,170.5 993.6,170.6 C996.1,170.7 998.5,170.9 1001.0,171.0 C1003.4,171.1 1005.9,171.2 1008.3,171.3 C1010.8,171.4 1013.2,171.6 1015.7,171.7 C1018.1,171.8 1020.6,171.9 1023.1,172.0 C1025.5,172.1 1028.0,172.3 1030.4,172.4 C1032.9,172.5 1035.3,172.6 1037.8,172.7 C1040.2,172.9 1042.7,173.0 1045.1,173.1 C1047.6,173.2 1050.0,173.4 1052.5,173.5 C1054.9,173.6 1057.4,173.7 1059.8,173.8 C1062.3,174.0 1064.7,174.1 1067.2,174.2 C1069.6,174.3 1072.1,174.5 1074.6,174.6 C1077.0,174.7 1079.5,174.8 1081.9,174.9 C1084.4,175.1 1086.8,175.2 1089.3,175.3 C1091.7,175.5 1094.2,175.6 1096.6,175.7 C1099.1,175.8 1101.5,176.0 1104.0,176.1 C1106.4,176.2 1108.9,176.3 1111.3,176.5 C1113.8,176.6 1116.2,176.7 1118.7,176.9 C1121.1,177.0 1123.6,177.1 1126.0,177.2 C1128.5,177.4 1130.9,177.5 1133.4,177.6 C1135.8,177.8 1138.3,177.9 1140.8,178.0 C1143.2,178.2 1145.7,178.3 1148.1,178.4 C1150.6,178.5 1153.0,178.7 1155.5,178.8 C1157.9,178.9 1160.4,179.1 1162.8,179.2 C1165.3,179.4 1167.7,179.5 1170.2,179.6 C1172.6,179.8 1175.1,179.9 1177.5,180.0 C1180.0,180.2 1182.4,180.3 1184.9,180.4 C1187.3,180.6 1189.8,180.7 1192.2,180.9 C1194.7,181.0 1197.1,181.1 1199.6,181.3 C1202.0,181.4 1204.5,181.5 1206.9,181.7 C1209.4,181.8 1211.8,182.0 1214.3,182.1 C1216.7,182.2 1219.2,182.4 1221.6,182.5 C1224.1,182.7 1226.5,182.8 1229.0,183.0 C1231.4,183.1 1233.9,183.2 1236.3,183.4 C1238.8,183.5 1241.3,183.7 1243.7,183.8 C1246.2,184.0 1248.6,184.1 1251.1,184.3 C1253.5,184.4 1256.0,184.6 1258.4,184.7 C1260.9,184.9 1263.3,185.0 1265.8,185.1 C1268.2,185.3 1270.7,185.4 1273.1,185.6 C1275.6,185.7 1278.0,185.9 1280.5,186.0 C1282.9,186.2 1285.4,186.4 1287.8,186.5 C1290.3,186.7 1292.7,186.8 1295.2,187.0 C1297.6,187.1 1300.1,187.3 1302.5,187.4 C1305.0,187.6 1307.4,187.7 1309.9,187.9 C1312.3,188.0 1314.8,188.2 1317.2,188.4 C1319.7,188.5 1322.1,188.7 1324.6,188.8 C1327.0,189.0 1329.5,189.1 1331.9,189.3 C1334.4,189.5 1336.8,189.6 1339.3,189.8 C1341.7,189.9 1344.2,190.1 1346.6,190.3 C1349.1,190.4 1351.5,190.6 1354.0,190.8 C1356.4,190.9 1358.9,191.1 1361.3,191.3 C1363.8,191.4 1366.2,191.6 1368.7,191.7 C1371.1,191.9 1373.6,192.1 1376.0,192.2 C1378.5,192.4 1380.9,192.6 1383.4,192.8 C1385.8,192.9 1388.3,193.1 1390.7,193.3 C1393.2,193.4 1395.6,193.6 1398.1,193.8 C1400.5,193.9 1403.0,194.1 1405.4,194.3 C1407.9,194.5 1410.3,194.6 1412.8,194.8 C1415.2,195.0 1417.7,195.2 1420.1,195.3 C1422.6,195.5 1425.0,195.7 1427.4,195.9 C1429.9,196.0 1432.3,196.2 1434.8,196.4 C1437.2,196.6 1439.7,196.7 1442.1,196.9 C1444.6,197.1 1447.0,197.3 1449.5,197.4 C1451.9,197.6 1454.4,197.8 1456.8,198.0 C1459.3,198.2 1461.7,198.3 1464.2,198.5 C1466.6,198.7 1469.1,198.9 1471.5,199.1 C1474.0,199.2 1476.4,199.4 1478.9,199.6 C1481.3,199.8 1483.8,200.0 1486.2,200.1 C1488.7,200.3 1491.1,200.5 1493.6,200.7 C1496.0,200.8 1498.5,201.0 1500.9,201.2 C1503.4,201.4 1505.8,201.6 1508.3,201.7 C1510.7,201.9 1513.2,202.1 1515.6,202.3 C1518.1,202.4 1520.5,202.6 1523.0,202.8 C1525.4,203.0 1527.9,203.2 1530.3,203.3 C1532.8,203.5 1535.2,203.7 1537.7,203.9 C1540.1,204.0 1542.6,204.2 1545.0,204.4 C1547.5,204.6 1549.9,204.7 1552.3,204.9 C1554.8,205.1 1557.2,205.3 1559.7,205.4 C1562.1,205.6 1564.6,205.8 1567.0,205.9 C1569.5,206.1 1571.9,206.3 1574.4,206.4 C1576.8,206.6 1579.3,206.8 1581.7,206.9 C1584.2,207.1 1586.6,207.3 1589.1,207.4 C1591.5,207.6 1594.0,207.8 1596.4,207.9 C1598.9,208.1 1601.3,208.3 1603.8,208.4 C1606.2,208.6 1608.7,208.7 1611.1,208.9 C1613.6,209.1 1616.0,209.2 1618.5,209.4 C1620.9,209.5 1623.4,209.7 1625.8,209.8 C1628.3,210.0 1630.7,210.2 1633.2,210.3 C1635.6,210.5 1638.1,210.6 1640.5,210.8 C1643.0,210.9 1645.4,211.1 1647.9,211.2 C1650.3,211.3 1652.8,211.5 1655.2,211.6 C1657.7,211.8 1660.1,211.9 1662.6,212.1 C1665.0,212.2 1667.5,212.3 1670.0,212.5 C1672.4,212.6 1674.9,212.8 1677.3,212.9 C1679.8,213.0 1682.2,213.2 1684.7,213.3 C1687.1,213.4 1689.6,213.5 1692.0,213.7 C1694.5,213.8 1696.9,213.9 1699.4,214.0 C1701.8,214.2 1704.3,214.3 1706.7,214.4 C1709.2,214.5 1711.6,214.6 1714.1,214.8 C1716.5,214.9 1719.0,215.0 1721.4,215.1 C1723.9,215.2 1726.3,215.3 1728.8,215.4 C1731.2,215.5 1733.7,215.6 1736.2,215.7 C1738.6,215.8 1741.1,215.9 1743.5,216.0 C1746.0,216.1 1748.4,216.2 1750.9,216.3 C1753.3,216.4 1755.8,216.5 1758.2,216.6 C1760.7,216.7 1763.1,216.8 1765.6,216.9 C1768.0,217.0 1770.5,217.0 1773.0,217.1 C1775.4,217.2 1777.9,217.3 1780.3,217.3 C1782.8,217.4 1785.2,217.5 1787.7,217.6 C1790.1,217.6 1792.6,217.7 1795.0,217.8 C1797.5,217.8 1799.9,217.9 1802.4,217.9 C1804.9,218.0 1807.3,218.1 1809.8,218.1 C1812.2,218.2 1814.7,218.2 1817.1,218.3 C1819.6,218.3 1822.0,218.3 1824.5,218.4 C1827.0,218.4 1829.4,218.5 1831.9,218.5 C1834.3,218.5 1836.8,218.6 1839.2,218.6 C1841.7,218.6 1844.2,218.7 1846.6,218.7 C1849.1,218.7 1852.8,218.7 1854.0,218.7" stroke="#66bd5c"/>
</g>
<text transform="translate(252.67,430.60) scale(0.9900,1)" font-family="'Liberation Sans', Arial, Helvetica, sans-serif" font-weight="bold" font-size="87.40" fill="#000">(b)</text>
<line x1="247.3" y1="549.75" x2="247.3" y2="1847.0" stroke="#2a2a2a" stroke-width="4.2" fill="none" stroke-linecap="butt"/>
<line x1="245.3" y1="1845.0" x2="1857.3" y2="1845.0" stroke="#2a2a2a" stroke-width="4.2" fill="none"/>
<line x1="222.3" y1="1845.0" x2="247.3" y2="1845.0" stroke="#2a2a2a" stroke-width="4.2" fill="none"/>
<line x1="235.3" y1="1727.2" x2="247.3" y2="1727.2" stroke="#2a2a2a" stroke-width="4.2" fill="none"/>
<line x1="222.3" y1="1609.5" x2="247.3" y2="1609.5" stroke="#2a2a2a" stroke-width="4.2" fill="none"/>
<line x1="235.3" y1="1491.8" x2="247.3" y2="1491.8" stroke="#2a2a2a" stroke-width="4.2" fill="none"/>
<line x1="222.3" y1="1374.0" x2="247.3" y2="1374.0" stroke="#2a2a2a" stroke-width="4.2" fill="none"/>
<line x1="235.3" y1="1256.2" x2="247.3" y2="1256.2" stroke="#2a2a2a" stroke-width="4.2" fill="none"/>
<line x1="222.3" y1="1138.5" x2="247.3" y2="1138.5" stroke="#2a2a2a" stroke-width="4.2" fill="none"/>
<line x1="235.3" y1="1020.8" x2="247.3" y2="1020.8" stroke="#2a2a2a" stroke-width="4.2" fill="none"/>
<line x1="222.3" y1="903.0" x2="247.3" y2="903.0" stroke="#2a2a2a" stroke-width="4.2" fill="none"/>
<line x1="235.3" y1="785.2" x2="247.3" y2="785.2" stroke="#2a2a2a" stroke-width="4.2" fill="none"/>
<line x1="222.3" y1="667.5" x2="247.3" y2="667.5" stroke="#2a2a2a" stroke-width="4.2" fill="none"/>
<line x1="235.3" y1="549.8" x2="247.3" y2="549.8" stroke="#2a2a2a" stroke-width="4.2" fill="none"/>
<line x1="247.3" y1="1845.0" x2="247.3" y2="1857.0" stroke="#2a2a2a" stroke-width="4.2" fill="none"/>
<line x1="381.3" y1="1845.0" x2="381.3" y2="1869.0" stroke="#2a2a2a" stroke-width="4.2" fill="none"/>
<line x1="515.3" y1="1845.0" x2="515.3" y2="1857.0" stroke="#2a2a2a" stroke-width="4.2" fill="none"/>
<line x1="649.3" y1="1845.0" x2="649.3" y2="1869.0" stroke="#2a2a2a" stroke-width="4.2" fill="none"/>
<line x1="783.3" y1="1845.0" x2="783.3" y2="1857.0" stroke="#2a2a2a" stroke-width="4.2" fill="none"/>
<line x1="917.3" y1="1845.0" x2="917.3" y2="1869.0" stroke="#2a2a2a" stroke-width="4.2" fill="none"/>
<line x1="1051.3" y1="1845.0" x2="1051.3" y2="1857.0" stroke="#2a2a2a" stroke-width="4.2" fill="none"/>
<line x1="1185.3" y1="1845.0" x2="1185.3" y2="1869.0" stroke="#2a2a2a" stroke-width="4.2" fill="none"/>
<line x1="1319.3" y1="1845.0" x2="1319.3" y2="1857.0" stroke="#2a2a2a" stroke-width="4.2" fill="none"/>
<line x1="1453.3" y1="1845.0" x2="1453.3" y2="1869.0" stroke="#2a2a2a" stroke-width="4.2" fill="none"/>
<line x1="1587.3" y1="1845.0" x2="1587.3" y2="1857.0" stroke="#2a2a2a" stroke-width="4.2" fill="none"/>
<line x1="1721.3" y1="1845.0" x2="1721.3" y2="1869.0" stroke="#2a2a2a" stroke-width="4.2" fill="none"/>
<line x1="1855.3" y1="1845.0" x2="1855.3" y2="1857.0" stroke="#2a2a2a" stroke-width="4.2" fill="none"/>
<text transform="translate(143.76,1862.20) scale(0.9630,1)" font-family="'Liberation Sans', Arial, Helvetica, sans-serif" font-size="57.30" fill="#262626">50</text>
<text transform="translate(143.76,1626.70) scale(0.9630,1)" font-family="'Liberation Sans', Arial, Helvetica, sans-serif" font-size="57.30" fill="#262626">60</text>
<text transform="translate(143.76,1391.20) scale(0.9630,1)" font-family="'Liberation Sans', Arial, Helvetica, sans-serif" font-size="57.30" fill="#262626">70</text>
<text transform="translate(143.76,1155.70) scale(0.9630,1)" font-family="'Liberation Sans', Arial, Helvetica, sans-serif" font-size="57.30" fill="#262626">80</text>
<text transform="translate(143.76,920.20) scale(0.9630,1)" font-family="'Liberation Sans', Arial, Helvetica, sans-serif" font-size="57.30" fill="#262626">90</text>
<text transform="translate(113.13,684.70) scale(0.9630,1)" font-family="'Liberation Sans', Arial, Helvetica, sans-serif" font-size="57.30" fill="#262626">100</text>
<text transform="translate(366.49,1930.80) scale(0.9630,1)" font-family="'Liberation Sans', Arial, Helvetica, sans-serif" font-size="57.30" fill="#262626">0</text>
<text transform="translate(603.59,1930.80) scale(0.9630,1)" font-family="'Liberation Sans', Arial, Helvetica, sans-serif" font-size="57.30" fill="#262626">200</text>
<text transform="translate(872.28,1930.80) scale(0.9630,1)" font-family="'Liberation Sans', Arial, Helvetica, sans-serif" font-size="57.30" fill="#262626">400</text>
<text transform="translate(1139.59,1930.80) scale(0.9630,1)" font-family="'Liberation Sans', Arial, Helvetica, sans-serif" font-size="57.30" fill="#262626">600</text>
<text transform="translate(1407.72,1930.80) scale(0.9630,1)" font-family="'Liberation Sans', Arial, Helvetica, sans-serif" font-size="57.30" fill="#262626">800</text>
<text transform="translate(1659.45,1930.80) scale(0.9630,1)" font-family="'Liberation Sans', Arial, Helvetica, sans-serif" font-size="57.30" fill="#262626">1000</text>
<text transform="translate(789.23,2034.50) scale(0.9630,1)" font-family="'Liberation Sans', Arial, Helvetica, sans-serif" font-weight="bold" font-size="69.80" fill="#000">Temperature (°C)</text>
<text transform="translate(84.80,1443.90) rotate(-90) scale(0.9630,1)" font-family="'Liberation Sans', Arial, Helvetica, sans-serif" font-weight="bold" font-size="69.80" fill="#000">Weight Loss (%)</text>
<line x1="1121" y1="626.5" x2="1121" y2="1843.0" stroke="#2e4a2e" stroke-width="4.2" stroke-dasharray="16.8 10.7" stroke-dashoffset="8.7"/>
<line x1="1121" y1="626.3" x2="1857.7" y2="460.8" stroke="#1f1f1f" stroke-width="4.0" stroke-dasharray="16.8 10.7"/>
<line x1="418.5" y1="667.5" x2="241" y2="461" stroke="#1a1a1a" stroke-width="3.6" stroke-dasharray="15.2 12.3" stroke-dashoffset="-2.2"/>
<text transform="translate(1026.63,606.90) scale(0.9400,1)" font-family="'Liberation Sans', Arial, Helvetica, sans-serif" font-weight="bold" font-size="70.00" fill="#000">550°C</text>
<g fill="none" stroke-width="4" stroke-linejoin="round" stroke-linecap="round">
<path d="M417.1,668.5 C417.9,668.4 420.0,668.1 421.5,667.9 C423.0,667.7 424.4,667.6 425.9,667.4 C427.4,667.3 428.8,667.2 430.3,667.1 C431.7,666.9 433.2,666.8 434.7,666.8 C436.1,666.7 437.6,666.6 439.1,666.5 C440.6,666.5 442.0,666.4 443.5,666.4 C445.0,666.4 446.4,666.4 447.9,666.3 C449.4,666.3 450.9,666.3 452.3,666.3 C453.8,666.3 455.3,666.3 456.8,666.4 C458.2,666.4 459.7,666.4 461.2,666.5 C462.7,666.5 464.1,666.5 465.6,666.6 C467.1,666.6 468.6,666.7 470.0,666.8 C471.5,666.8 473.0,666.9 474.5,667.0 C476.0,667.0 477.4,667.1 478.9,667.2 C480.4,667.3 481.9,667.3 483.3,667.4 C484.8,667.5 486.3,667.6 487.8,667.6 C489.3,667.7 490.7,667.8 492.2,667.9 C493.7,668.0 495.2,668.0 496.6,668.1 C498.1,668.2 499.6,668.3 501.1,668.3 C502.6,668.4 504.0,668.5 505.5,668.6 C507.0,668.6 508.5,668.7 509.9,668.8 C511.4,668.8 512.9,668.9 514.4,669.0 C515.9,669.0 517.3,669.1 518.8,669.2 C520.3,669.2 521.8,669.3 523.2,669.4 C524.7,669.4 526.2,669.5 527.7,669.5 C529.1,669.6 530.6,669.7 532.1,669.7 C533.6,669.8 535.0,669.8 536.5,669.9 C538.0,670.0 539.5,670.0 541.0,670.1 C542.4,670.1 543.9,670.2 545.4,670.2 C546.9,670.3 548.3,670.4 549.8,670.4 C551.3,670.5 552.8,670.5 554.2,670.6 C555.7,670.6 557.2,670.7 558.7,670.7 C560.1,670.8 561.6,670.8 563.1,670.9 C564.6,670.9 566.0,671.0 567.5,671.0 C569.0,671.1 570.5,671.1 571.9,671.2 C573.4,671.2 574.9,671.3 576.4,671.4 C577.8,671.4 579.3,671.5 580.8,671.5 C582.3,671.6 583.8,671.6 585.2,671.7 C586.7,671.7 588.2,671.8 589.7,671.8 C591.1,671.9 592.6,671.9 594.1,672.0 C595.6,672.0 597.0,672.1 598.5,672.1 C600.0,672.2 601.5,672.2 602.9,672.3 C604.4,672.3 605.9,672.4 607.4,672.4 C608.8,672.5 610.3,672.5 611.8,672.6 C613.3,672.6 614.8,672.7 616.2,672.7 C617.7,672.8 619.2,672.9 620.7,672.9 C622.1,673.0 623.6,673.0 625.1,673.1 C626.6,673.1 628.0,673.2 629.5,673.2 C631.0,673.3 632.5,673.3 633.9,673.4 C635.4,673.4 636.9,673.5 638.4,673.5 C639.9,673.6 641.3,673.7 642.8,673.7 C644.3,673.8 645.8,673.8 647.2,673.9 C648.7,673.9 650.2,674.0 651.7,674.0 C653.1,674.1 654.6,674.2 656.1,674.2 C657.6,674.3 659.1,674.3 660.5,674.4 C662.0,674.4 663.5,674.5 665.0,674.6 C666.4,674.6 667.9,674.7 669.4,674.7 C670.9,674.8 672.3,674.8 673.8,674.9 C675.3,675.0 676.8,675.0 678.3,675.1 C679.7,675.1 681.2,675.2 682.7,675.3 C684.2,675.3 685.6,675.4 687.1,675.4 C688.6,675.5 690.1,675.6 691.5,675.6 C693.0,675.7 694.5,675.7 696.0,675.8 C697.5,675.9 698.9,675.9 700.4,676.0 C701.9,676.0 703.4,676.1 704.8,676.2 C706.3,676.2 707.8,676.3 709.3,676.4 C710.7,676.4 712.2,676.5 713.7,676.5 C715.2,676.6 716.7,676.7 718.1,676.7 C719.6,676.8 721.1,676.9 722.6,676.9 C724.0,677.0 725.5,677.1 727.0,677.1 C728.5,677.2 729.9,677.3 731.4,677.3 C732.9,677.4 734.4,677.5 735.9,677.6 C737.3,677.6 738.8,677.7 740.3,677.8 C741.8,677.9 743.2,677.9 744.7,678.0 C746.2,678.1 747.7,678.2 749.1,678.3 C750.6,678.4 752.1,678.5 753.5,678.6 C755.0,678.7 756.5,678.8 758.0,679.0 C759.4,679.1 760.9,679.2 762.4,679.4 C763.8,679.5 765.3,679.6 766.8,679.8 C768.2,679.9 769.7,680.1 771.2,680.3 C772.6,680.4 774.1,680.6 775.5,680.8 C777.0,681.0 778.5,681.2 779.9,681.4 C781.4,681.6 782.8,681.9 784.3,682.1 C785.7,682.3 787.2,682.5 788.6,682.8 C790.1,683.0 791.5,683.3 793.0,683.5 C794.4,683.8 795.9,684.0 797.3,684.3 C798.8,684.6 800.2,684.8 801.7,685.1 C803.1,685.4 804.6,685.7 806.0,685.9 C807.5,686.2 808.9,686.5 810.4,686.8 C811.8,687.1 813.3,687.3 814.7,687.6 C816.2,687.9 817.6,688.2 819.1,688.5 C820.5,688.7 822.0,689.0 823.4,689.3 C824.9,689.6 826.3,689.9 827.8,690.1 C829.2,690.4 830.7,690.7 832.1,691.0 C833.6,691.2 835.0,691.5 836.5,691.8 C837.9,692.1 839.4,692.3 840.9,692.6 C842.3,692.9 843.8,693.1 845.2,693.4 C846.7,693.7 848.1,693.9 849.6,694.2 C851.0,694.4 852.5,694.7 853.9,695.0 C855.4,695.2 856.9,695.5 858.3,695.7 C859.8,696.0 861.2,696.2 862.7,696.5 C864.1,696.7 865.6,697.0 867.1,697.2 C868.5,697.4 870.0,697.7 871.4,697.9 C872.9,698.1 874.4,698.4 875.8,698.6 C877.3,698.8 878.7,699.0 880.2,699.3 C881.7,699.5 883.1,699.7 884.6,699.9 C886.0,700.1 887.5,700.3 889.0,700.5 C890.4,700.7 891.9,700.9 893.4,701.1 C894.8,701.3 896.3,701.5 897.8,701.7 C899.2,701.9 900.7,702.1 902.2,702.2 C903.6,702.4 905.1,702.6 906.6,702.7 C908.0,702.9 909.5,703.1 911.0,703.2 C912.4,703.4 913.9,703.5 915.4,703.7 C916.8,703.8 918.3,704.0 919.8,704.1 C921.2,704.3 922.7,704.4 924.2,704.5 C925.6,704.7 927.1,704.8 928.6,704.9 C930.1,705.0 931.5,705.2 933.0,705.3 C934.5,705.4 935.9,705.5 937.4,705.6 C938.9,705.7 940.4,705.8 941.8,705.9 C943.3,706.0 944.8,706.1 946.3,706.2 C947.7,706.3 949.2,706.4 950.7,706.5 C952.2,706.6 953.6,706.7 955.1,706.8 C956.6,706.9 958.1,706.9 959.5,707.0 C961.0,707.1 962.5,707.2 964.0,707.3 C965.4,707.3 966.9,707.4 968.4,707.5 C969.9,707.5 971.3,707.6 972.8,707.7 C974.3,707.7 975.8,707.8 977.2,707.9 C978.7,707.9 980.2,708.0 981.7,708.0 C983.2,708.1 984.6,708.1 986.1,708.2 C987.6,708.3 989.1,708.3 990.5,708.4 C992.0,708.4 993.5,708.5 995.0,708.5 C996.5,708.5 997.9,708.6 999.4,708.6 C1000.9,708.7 1002.4,708.7 1003.8,708.8 C1005.3,708.8 1006.8,708.9 1008.3,708.9 C1009.8,708.9 1011.2,709.0 1012.7,709.0 C1014.2,709.1 1015.7,709.1 1017.2,709.1 C1018.6,709.2 1020.1,709.2 1021.6,709.3 C1023.1,709.3 1024.5,709.3 1026.0,709.4 C1027.5,709.4 1029.0,709.4 1030.5,709.5 C1031.9,709.5 1033.4,709.5 1034.9,709.6 C1036.4,709.6 1037.9,709.7 1039.3,709.7 C1040.8,709.7 1041.7,709.7 1043.8,709.8 C1045.8,709.9 1049.1,710.0 1051.8,710.0 C1054.5,710.1 1057.2,710.2 1059.8,710.3 C1062.5,710.4 1065.2,710.4 1067.8,710.5 C1070.5,710.6 1073.2,710.7 1075.8,710.8 C1078.5,710.9 1081.2,710.9 1083.8,711.0 C1086.5,711.1 1089.1,711.2 1091.8,711.2 C1094.5,711.3 1097.1,711.4 1099.8,711.4 C1102.5,711.5 1105.1,711.5 1107.8,711.6 C1110.4,711.6 1113.1,711.7 1115.8,711.7 C1118.4,711.8 1121.1,711.8 1123.8,711.9 C1126.4,711.9 1129.1,711.9 1131.7,712.0 C1134.4,712.0 1137.1,712.1 1139.8,712.1 C1142.4,712.1 1145.1,712.2 1147.8,712.2 C1150.4,712.3 1153.1,712.3 1155.8,712.4 C1158.5,712.4 1161.2,712.5 1163.8,712.5 C1166.5,712.6 1169.2,712.6 1171.9,712.7 C1174.6,712.7 1177.3,712.8 1180.0,712.9 C1182.7,713.0 1185.4,713.0 1188.1,713.1 C1190.8,713.2 1193.5,713.3 1196.2,713.4 C1198.9,713.5 1201.6,713.6 1204.3,713.7 C1207.1,713.9 1209.8,714.0 1212.5,714.2 C1215.2,714.3 1217.9,714.5 1220.6,714.7 C1223.4,714.9 1226.1,715.1 1228.8,715.3 C1231.5,715.6 1234.2,715.8 1236.9,716.1 C1239.6,716.4 1242.3,716.8 1244.9,717.1 C1247.6,717.5 1250.3,717.9 1252.9,718.4 C1255.6,718.8 1258.2,719.3 1260.8,719.9 C1263.4,720.4 1266.0,721.0 1268.6,721.6 C1271.2,722.3 1273.8,723.0 1276.3,723.7 C1278.9,724.5 1281.4,725.3 1283.9,726.2 C1286.4,727.0 1288.9,728.0 1291.3,728.9 C1293.8,729.9 1296.2,731.0 1298.6,732.1 C1301.0,733.2 1303.4,734.3 1305.7,735.5 C1308.0,736.7 1310.4,738.0 1312.6,739.3 C1314.9,740.6 1317.2,742.0 1319.4,743.4 C1321.6,744.8 1323.8,746.3 1326.0,747.8 C1328.1,749.3 1330.3,750.9 1332.3,752.5 C1334.4,754.1 1336.5,755.7 1338.5,757.4 C1340.5,759.1 1342.5,760.8 1344.4,762.6 C1346.4,764.4 1348.3,766.2 1350.1,768.1 C1352.0,769.9 1353.8,771.8 1355.6,773.7 C1357.4,775.7 1359.1,777.6 1360.8,779.6 C1362.5,781.6 1364.1,783.7 1365.7,785.8 C1367.3,787.8 1368.9,789.9 1370.4,792.1 C1371.9,794.2 1373.4,796.4 1374.8,798.5 C1376.2,800.7 1377.6,803.0 1379.0,805.2 C1380.3,807.5 1381.6,809.7 1382.9,812.0 C1384.1,814.3 1385.4,816.7 1386.6,819.0 C1387.8,821.3 1388.9,823.7 1390.1,826.1 C1391.2,828.5 1392.3,830.9 1393.4,833.3 C1394.4,835.8 1395.5,838.2 1396.5,840.7 C1397.5,843.1 1398.5,845.6 1399.5,848.1 C1400.4,850.6 1401.4,853.1 1402.3,855.6 C1403.2,858.2 1404.1,860.7 1405.0,863.2 C1405.9,865.8 1406.7,868.3 1407.6,870.9 C1408.4,873.5 1409.2,876.0 1410.1,878.6 C1410.9,881.2 1411.7,883.8 1412.5,886.4 C1413.2,889.0 1414.0,891.6 1414.8,894.2 C1415.5,896.8 1416.3,899.4 1417.0,902.0 C1417.8,904.6 1418.5,907.2 1419.3,909.8 C1420.0,912.4 1420.7,915.0 1421.4,917.6 C1422.2,920.2 1422.9,922.8 1423.6,925.4 C1424.3,928.0 1425.0,930.6 1425.7,933.2 C1426.4,935.8 1427.1,938.4 1427.7,941.1 C1428.4,943.7 1429.1,946.3 1429.8,948.9 C1430.4,951.5 1431.1,954.1 1431.7,956.7 C1432.4,959.3 1433.0,961.9 1433.7,964.6 C1434.3,967.2 1435.0,969.8 1435.6,972.4 C1436.2,975.0 1436.9,977.6 1437.5,980.2 C1438.1,982.9 1438.7,985.5 1439.3,988.1 C1439.9,990.7 1440.5,993.3 1441.1,995.9 C1441.7,998.6 1442.3,1001.2 1442.9,1003.8 C1443.5,1006.4 1444.0,1009.0 1444.6,1011.7 C1445.2,1014.3 1445.8,1016.9 1446.3,1019.5 C1446.9,1022.1 1447.4,1024.8 1448.0,1027.4 C1448.5,1030.0 1449.1,1032.6 1449.6,1035.2 C1450.2,1037.9 1450.7,1040.5 1451.2,1043.1 C1451.8,1045.7 1452.3,1048.4 1452.8,1051.0 C1453.3,1053.6 1453.8,1056.2 1454.4,1058.9 C1454.9,1061.5 1455.4,1064.1 1455.9,1066.8 C1456.4,1069.4 1456.9,1072.0 1457.4,1074.6 C1457.9,1077.3 1458.3,1079.9 1458.8,1082.5 C1459.3,1085.2 1459.8,1087.8 1460.3,1090.4 C1460.7,1093.0 1461.2,1095.7 1461.7,1098.3 C1462.1,1100.9 1462.6,1103.6 1463.0,1106.2 C1463.5,1108.8 1463.9,1111.5 1464.4,1114.1 C1464.8,1116.7 1465.3,1119.4 1465.7,1122.0 C1466.2,1124.6 1466.6,1127.3 1467.0,1129.9 C1467.4,1132.5 1467.9,1135.2 1468.3,1137.8 C1468.7,1140.5 1469.1,1143.1 1469.5,1145.7 C1470.0,1148.4 1470.4,1151.0 1470.8,1153.6 C1471.2,1156.3 1471.6,1158.9 1472.0,1161.6 C1472.4,1164.2 1472.8,1166.8 1473.2,1169.5 C1473.6,1172.1 1474.0,1174.8 1474.3,1177.4 C1474.7,1180.0 1475.1,1182.7 1475.5,1185.3 C1475.9,1188.0 1476.2,1190.6 1476.6,1193.2 C1477.0,1195.9 1477.4,1198.5 1477.7,1201.2 C1478.1,1203.8 1478.5,1206.5 1478.8,1209.1 C1479.2,1211.7 1479.5,1214.4 1479.9,1217.0 C1480.2,1219.7 1480.6,1222.3 1480.9,1225.0 C1481.3,1227.6 1481.6,1230.3 1482.0,1232.9 C1482.3,1235.5 1482.7,1238.2 1483.0,1240.8 C1483.3,1243.5 1483.7,1246.1 1484.0,1248.8 C1484.3,1251.4 1484.7,1254.1 1485.0,1256.7 C1485.3,1259.4 1485.6,1262.0 1486.0,1264.7 C1486.3,1267.3 1486.6,1270.0 1486.9,1272.6 C1487.3,1275.3 1487.6,1277.9 1487.9,1280.6 C1488.2,1283.2 1488.5,1285.9 1488.8,1288.5 C1489.1,1291.2 1489.4,1293.8 1489.7,1296.5 C1490.0,1299.1 1490.4,1301.8 1490.7,1304.4 C1491.0,1307.1 1491.3,1309.7 1491.6,1312.4 C1491.9,1315.0 1492.2,1317.7 1492.5,1320.3 C1492.7,1323.0 1493.0,1325.6 1493.3,1328.3 C1493.6,1330.9 1493.9,1333.6 1494.2,1336.3 C1494.5,1338.9 1494.8,1341.6 1495.1,1344.2 C1495.4,1346.9 1495.6,1349.5 1495.9,1352.2 C1496.2,1354.8 1496.5,1357.5 1496.8,1360.1 C1497.1,1362.8 1497.3,1365.5 1497.6,1368.1 C1497.9,1370.8 1498.2,1373.4 1498.5,1376.1 C1498.7,1378.7 1499.0,1381.4 1499.3,1384.1 C1499.6,1386.7 1499.8,1389.4 1500.1,1392.0 C1500.4,1394.7 1500.7,1397.3 1500.9,1400.0 C1501.2,1402.7 1501.5,1405.3 1501.8,1408.0 C1502.0,1410.6 1502.3,1413.3 1502.6,1415.9 C1502.9,1418.6 1503.1,1421.3 1503.4,1423.9 C1503.7,1426.6 1503.9,1429.2 1504.2,1431.9 C1504.5,1434.6 1504.8,1437.2 1505.0,1439.9 C1505.3,1442.5 1505.6,1445.2 1505.8,1447.9 C1506.1,1450.5 1506.4,1453.2 1506.7,1455.8 C1506.9,1458.5 1507.2,1461.2 1507.5,1463.8 C1507.7,1466.5 1508.0,1469.1 1508.3,1471.8 C1508.5,1474.5 1508.8,1477.1 1509.1,1479.8 C1509.4,1482.4 1509.6,1485.1 1509.9,1487.8 C1510.2,1490.4 1510.5,1493.1 1510.7,1495.7 C1511.0,1498.4 1511.3,1501.1 1511.6,1503.7 C1511.8,1506.4 1512.1,1509.0 1512.4,1511.7 C1512.7,1514.4 1512.9,1517.0 1513.2,1519.7 C1513.5,1522.4 1513.8,1525.0 1514.1,1527.7 C1514.3,1530.3 1514.6,1533.0 1514.9,1535.7 C1515.2,1538.3 1515.5,1541.0 1515.8,1543.7 C1516.1,1546.3 1516.3,1549.0 1516.6,1551.6 C1516.9,1554.3 1517.2,1557.0 1517.5,1559.6 C1517.8,1562.3 1518.1,1565.0 1518.4,1567.6 C1518.7,1570.3 1519.0,1572.9 1519.3,1575.6 C1519.6,1578.3 1519.9,1580.9 1520.2,1583.6 C1520.5,1586.3 1520.8,1588.9 1521.1,1591.6 C1521.4,1594.2 1521.7,1596.9 1522.0,1599.6 C1522.3,1602.2 1522.6,1604.9 1522.9,1607.6 C1523.2,1610.2 1523.5,1612.9 1523.8,1615.5 C1524.2,1618.2 1524.5,1620.9 1524.8,1623.5 C1525.1,1626.2 1525.4,1628.9 1525.8,1631.5 C1526.1,1634.2 1526.4,1636.9 1526.8,1639.5 C1527.1,1642.2 1527.4,1644.8 1527.7,1647.5 C1528.1,1650.2 1528.4,1652.8 1528.8,1655.5 C1529.1,1658.2 1529.4,1660.8 1529.8,1663.5 C1530.1,1666.1 1530.5,1668.8 1530.8,1671.5 C1531.2,1674.1 1531.5,1676.8 1531.9,1679.5 C1532.2,1682.1 1532.6,1684.8 1533.0,1687.4 C1533.3,1690.1 1533.6,1691.8 1534.1,1695.4 C1534.5,1699.0 1535.2,1705.3 1535.8,1709.0 C1536.4,1712.7 1536.9,1715.1 1537.6,1717.5 C1538.3,1719.9 1539.0,1721.8 1540.2,1723.3 C1541.4,1724.8 1542.7,1725.7 1544.5,1726.4 C1546.3,1727.1 1547.6,1727.3 1551.0,1727.6 C1554.4,1727.8 1556.8,1727.8 1565.0,1727.9 C1573.2,1728.0 1585.2,1728.1 1600.0,1728.2 C1614.8,1728.3 1644.8,1728.6 1653.7,1728.7" stroke="#ff8a28"/>
<path d="M417.2,669.0 C417.9,669.0 420.2,669.1 421.7,669.1 C423.1,669.2 424.6,669.2 426.1,669.3 C427.6,669.3 429.1,669.4 430.6,669.5 C432.1,669.5 433.6,669.6 435.1,669.7 C436.6,669.8 438.1,669.9 439.6,670.0 C441.1,670.1 442.5,670.2 444.0,670.3 C445.5,670.5 447.0,670.6 448.5,670.7 C450.0,670.9 451.5,671.0 453.0,671.2 C454.5,671.3 455.9,671.5 457.4,671.7 C458.9,671.8 460.4,672.0 461.9,672.2 C463.4,672.4 464.8,672.6 466.3,672.8 C467.8,673.0 469.3,673.2 470.8,673.4 C472.2,673.7 473.7,673.9 475.2,674.1 C476.7,674.4 478.1,674.6 479.6,674.9 C481.1,675.1 482.6,675.4 484.0,675.7 C485.5,676.0 487.0,676.2 488.4,676.5 C489.9,676.8 491.4,677.1 492.8,677.4 C494.3,677.8 495.7,678.1 497.2,678.4 C498.7,678.7 500.1,679.1 501.6,679.4 C503.0,679.7 504.5,680.1 505.9,680.5 C507.4,680.8 508.8,681.2 510.3,681.5 C511.7,681.9 513.2,682.3 514.6,682.6 C516.1,683.0 517.5,683.4 519.0,683.8 C520.4,684.1 521.8,684.5 523.3,684.9 C524.7,685.3 526.2,685.7 527.6,686.1 C529.1,686.4 530.5,686.8 531.9,687.2 C533.4,687.6 534.8,688.0 536.3,688.4 C537.7,688.8 539.2,689.1 540.6,689.5 C542.1,689.9 543.5,690.3 544.9,690.6 C546.4,691.0 547.8,691.4 549.3,691.7 C550.7,692.1 552.2,692.5 553.6,692.8 C555.1,693.2 556.5,693.5 558.0,693.8 C559.4,694.2 560.9,694.5 562.4,694.8 C563.8,695.2 565.3,695.5 566.7,695.8 C568.2,696.1 569.7,696.4 571.1,696.7 C572.6,697.0 574.0,697.3 575.5,697.6 C577.0,697.9 578.4,698.2 579.9,698.5 C581.4,698.7 582.8,699.0 584.3,699.3 C585.8,699.6 587.2,699.8 588.7,700.1 C590.2,700.4 591.6,700.6 593.1,700.9 C594.6,701.2 596.1,701.4 597.5,701.7 C599.0,701.9 600.5,702.2 601.9,702.4 C603.4,702.7 604.9,702.9 606.4,703.2 C607.8,703.4 609.3,703.6 610.8,703.9 C612.3,704.1 613.7,704.4 615.2,704.6 C616.7,704.8 618.2,705.1 619.6,705.3 C621.1,705.5 622.6,705.8 624.1,706.0 C625.6,706.2 627.0,706.5 628.5,706.7 C630.0,707.0 631.5,707.2 632.9,707.4 C634.4,707.7 635.9,707.9 637.4,708.1 C638.8,708.4 640.3,708.6 641.8,708.8 C643.3,709.1 644.7,709.3 646.2,709.5 C647.7,709.7 649.2,710.0 650.6,710.2 C652.1,710.4 653.6,710.7 655.1,710.9 C656.6,711.1 658.0,711.3 659.5,711.6 C661.0,711.8 662.5,712.0 663.9,712.2 C665.4,712.5 666.9,712.7 668.4,712.9 C669.9,713.1 671.3,713.3 672.8,713.5 C674.3,713.8 675.8,714.0 677.2,714.2 C678.7,714.4 680.2,714.6 681.7,714.8 C683.2,715.0 684.6,715.2 686.1,715.4 C687.6,715.6 689.1,715.8 690.6,716.0 C692.0,716.2 693.5,716.4 695.0,716.6 C696.5,716.8 698.0,717.0 699.4,717.2 C700.9,717.4 702.4,717.5 703.9,717.7 C705.4,717.9 706.8,718.1 708.3,718.2 C709.8,718.4 711.3,718.6 712.8,718.8 C714.2,718.9 715.7,719.1 717.2,719.3 C718.7,719.4 720.2,719.6 721.7,719.8 C723.1,719.9 724.6,720.1 726.1,720.3 C727.6,720.4 729.1,720.6 730.6,720.8 C732.0,721.0 733.5,721.2 735.0,721.3 C736.5,721.5 738.0,721.7 739.4,721.9 C740.9,722.1 742.4,722.3 743.9,722.5 C745.3,722.7 746.8,723.0 748.3,723.2 C749.8,723.4 751.2,723.7 752.7,723.9 C754.2,724.2 755.6,724.4 757.1,724.7 C758.6,725.0 760.1,725.3 761.5,725.6 C763.0,725.9 764.4,726.2 765.9,726.5 C767.4,726.8 768.8,727.1 770.3,727.5 C771.8,727.8 773.2,728.2 774.7,728.5 C776.1,728.9 777.6,729.3 779.0,729.7 C780.5,730.0 781.9,730.4 783.4,730.8 C784.8,731.2 786.3,731.6 787.7,732.0 C789.2,732.4 790.6,732.8 792.1,733.2 C793.5,733.6 794.9,734.0 796.4,734.4 C797.8,734.8 799.3,735.2 800.7,735.6 C802.1,736.0 803.6,736.4 805.0,736.8 C806.4,737.2 807.9,737.6 809.3,738.0 C810.7,738.4 812.2,738.8 813.6,739.3 C815.0,739.7 816.4,740.1 817.9,740.5 C819.3,740.9 820.7,741.3 822.1,741.8 C823.6,742.2 825.0,742.6 826.4,743.0 C827.9,743.5 829.3,743.9 830.7,744.3 C832.1,744.8 833.6,745.2 835.0,745.6 C836.4,746.1 837.8,746.5 839.3,747.0 C840.7,747.4 842.1,747.9 843.5,748.3 C845.0,748.8 846.4,749.2 847.8,749.7 C849.3,750.1 850.7,750.5 852.1,751.0 C853.6,751.4 855.0,751.8 856.4,752.2 C857.9,752.6 859.3,753.0 860.8,753.4 C862.2,753.8 863.7,754.2 865.1,754.5 C866.6,754.9 868.0,755.2 869.5,755.6 C870.9,755.9 872.4,756.2 873.8,756.5 C875.3,756.8 876.8,757.1 878.2,757.4 C879.7,757.7 881.1,758.0 882.6,758.3 C884.1,758.6 885.5,758.9 887.0,759.1 C888.5,759.4 889.9,759.7 891.4,759.9 C892.9,760.2 894.4,760.4 895.8,760.7 C897.3,760.9 898.8,761.1 900.3,761.4 C901.7,761.6 903.2,761.8 904.7,762.1 C906.2,762.3 907.6,762.5 909.1,762.8 C910.6,763.0 912.1,763.2 913.5,763.4 C915.0,763.6 916.5,763.9 918.0,764.1 C919.5,764.3 920.9,764.5 922.4,764.7 C923.9,764.9 925.4,765.1 926.9,765.3 C928.3,765.5 929.8,765.7 931.3,765.9 C932.8,766.1 934.3,766.3 935.7,766.5 C937.2,766.7 938.7,766.9 940.2,767.0 C941.7,767.2 943.2,767.4 944.6,767.6 C946.1,767.8 947.6,767.9 949.1,768.1 C950.6,768.3 952.1,768.4 953.6,768.6 C955.0,768.8 956.5,768.9 958.0,769.1 C959.5,769.3 961.0,769.4 962.5,769.6 C964.0,769.7 965.5,769.9 966.9,770.0 C968.4,770.2 969.9,770.3 971.4,770.5 C972.9,770.6 974.4,770.8 975.9,770.9 C977.4,771.1 978.8,771.2 980.3,771.3 C981.8,771.5 983.3,771.6 984.8,771.7 C986.3,771.9 987.8,772.0 989.3,772.1 C990.8,772.2 992.3,772.4 993.7,772.5 C995.2,772.6 996.7,772.7 998.2,772.8 C999.7,773.0 1001.2,773.1 1002.7,773.2 C1004.2,773.3 1005.7,773.4 1007.2,773.5 C1008.7,773.6 1010.1,773.7 1011.6,773.8 C1013.1,773.9 1014.6,774.0 1016.1,774.1 C1017.6,774.2 1019.1,774.3 1020.6,774.4 C1022.1,774.5 1023.6,774.6 1025.1,774.7 C1026.6,774.8 1028.0,774.9 1029.5,775.0 C1031.0,775.0 1032.5,775.1 1034.0,775.2 C1035.5,775.3 1037.0,775.4 1038.5,775.4 C1040.0,775.5 1041.0,775.6 1043.0,775.7 C1044.9,775.8 1048.0,775.9 1050.5,776.0 C1053.0,776.2 1055.5,776.3 1058.0,776.4 C1060.5,776.5 1063.0,776.7 1065.5,776.8 C1068.0,776.9 1070.5,777.0 1072.9,777.1 C1075.4,777.2 1077.9,777.3 1080.4,777.4 C1082.9,777.5 1085.4,777.6 1087.9,777.7 C1090.4,777.8 1092.9,777.9 1095.4,777.9 C1097.9,778.0 1100.4,778.1 1102.9,778.2 C1105.4,778.2 1107.9,778.3 1110.4,778.3 C1112.9,778.4 1115.4,778.5 1117.9,778.5 C1120.4,778.6 1122.9,778.6 1125.4,778.7 C1128.0,778.7 1130.5,778.8 1133.0,778.8 C1135.5,778.8 1138.1,778.9 1140.6,778.9 C1143.1,779.0 1145.7,779.0 1148.2,779.0 C1150.7,779.1 1153.3,779.1 1155.8,779.1 C1158.4,779.2 1160.9,779.2 1163.5,779.3 C1166.0,779.3 1168.6,779.3 1171.2,779.4 C1173.7,779.4 1176.3,779.5 1178.9,779.5 C1181.4,779.6 1184.0,779.7 1186.6,779.8 C1189.2,779.9 1191.7,780.0 1194.3,780.1 C1196.8,780.2 1199.4,780.3 1202.0,780.5 C1204.5,780.6 1207.1,780.8 1209.6,781.0 C1212.2,781.2 1214.7,781.4 1217.2,781.6 C1219.8,781.9 1222.3,782.2 1224.8,782.5 C1227.3,782.8 1229.8,783.1 1232.3,783.5 C1234.8,783.8 1237.2,784.2 1239.7,784.7 C1242.2,785.1 1244.6,785.6 1247.0,786.1 C1249.5,786.7 1251.9,787.2 1254.3,787.8 C1256.7,788.4 1259.0,789.1 1261.4,789.8 C1263.7,790.5 1266.1,791.3 1268.4,792.1 C1270.7,792.9 1273.0,793.7 1275.3,794.6 C1277.5,795.5 1279.8,796.5 1282.0,797.5 C1284.2,798.5 1286.4,799.5 1288.6,800.6 C1290.8,801.7 1292.9,802.8 1295.1,804.0 C1297.2,805.2 1299.3,806.4 1301.3,807.7 C1303.4,808.9 1305.5,810.2 1307.5,811.6 C1309.5,813.0 1311.4,814.4 1313.4,815.8 C1315.3,817.2 1317.3,818.7 1319.1,820.2 C1321.0,821.8 1322.9,823.3 1324.7,824.9 C1326.5,826.5 1328.3,828.2 1330.1,829.9 C1331.8,831.5 1333.5,833.3 1335.2,835.0 C1336.9,836.8 1338.5,838.6 1340.1,840.4 C1341.7,842.2 1343.3,844.1 1344.8,846.0 C1346.3,847.9 1347.8,849.9 1349.3,851.8 C1350.7,853.8 1352.1,855.8 1353.5,857.9 C1354.9,859.9 1356.2,862.0 1357.5,864.1 C1358.8,866.2 1360.0,868.3 1361.3,870.5 C1362.5,872.7 1363.7,874.8 1364.8,877.0 C1366.0,879.3 1367.1,881.5 1368.2,883.8 C1369.3,886.0 1370.4,888.3 1371.4,890.6 C1372.5,892.9 1373.5,895.2 1374.5,897.5 C1375.5,899.9 1376.4,902.2 1377.4,904.6 C1378.4,906.9 1379.3,909.3 1380.2,911.7 C1381.1,914.1 1382.0,916.5 1382.9,918.9 C1383.8,921.3 1384.6,923.7 1385.5,926.1 C1386.3,928.5 1387.1,930.9 1388.0,933.3 C1388.8,935.8 1389.6,938.2 1390.4,940.6 C1391.2,943.0 1392.0,945.4 1392.8,947.9 C1393.6,950.3 1394.4,952.7 1395.1,955.1 C1395.9,957.6 1396.7,960.0 1397.4,962.4 C1398.2,964.9 1398.9,967.3 1399.7,969.7 C1400.4,972.1 1401.1,974.6 1401.9,977.0 C1402.6,979.4 1403.3,981.8 1404.0,984.3 C1404.7,986.7 1405.4,989.1 1406.1,991.6 C1406.8,994.0 1407.5,996.4 1408.2,998.8 C1408.8,1001.3 1409.5,1003.7 1410.2,1006.1 C1410.8,1008.6 1411.5,1011.0 1412.1,1013.4 C1412.8,1015.9 1413.4,1018.3 1414.1,1020.7 C1414.7,1023.2 1415.3,1025.6 1415.9,1028.0 C1416.6,1030.5 1417.2,1032.9 1417.8,1035.3 C1418.4,1037.8 1419.0,1040.2 1419.6,1042.6 C1420.2,1045.1 1420.8,1047.5 1421.4,1049.9 C1421.9,1052.4 1422.5,1054.8 1423.1,1057.3 C1423.7,1059.7 1424.2,1062.1 1424.8,1064.6 C1425.3,1067.0 1425.9,1069.4 1426.4,1071.9 C1427.0,1074.3 1427.5,1076.8 1428.1,1079.2 C1428.6,1081.6 1429.1,1084.1 1429.7,1086.5 C1430.2,1089.0 1430.7,1091.4 1431.2,1093.8 C1431.8,1096.3 1432.3,1098.7 1432.8,1101.2 C1433.3,1103.6 1433.8,1106.1 1434.3,1108.5 C1434.8,1110.9 1435.3,1113.4 1435.8,1115.8 C1436.3,1118.3 1436.7,1120.7 1437.2,1123.2 C1437.7,1125.6 1438.2,1128.1 1438.6,1130.5 C1439.1,1133.0 1439.6,1135.4 1440.0,1137.9 C1440.5,1140.3 1441.0,1142.8 1441.4,1145.2 C1441.9,1147.7 1442.3,1150.1 1442.8,1152.6 C1443.2,1155.0 1443.7,1157.5 1444.1,1159.9 C1444.6,1162.4 1445.0,1164.8 1445.4,1167.3 C1445.9,1169.7 1446.3,1172.2 1446.7,1174.6 C1447.2,1177.1 1447.6,1179.5 1448.0,1182.0 C1448.4,1184.4 1448.8,1186.9 1449.3,1189.3 C1449.7,1191.8 1450.1,1194.3 1450.5,1196.7 C1450.9,1199.2 1451.3,1201.6 1451.7,1204.1 C1452.1,1206.5 1452.5,1209.0 1452.9,1211.5 C1453.3,1213.9 1453.7,1216.4 1454.1,1218.8 C1454.5,1221.3 1454.9,1223.8 1455.3,1226.2 C1455.7,1228.7 1456.1,1231.2 1456.5,1233.6 C1456.9,1236.1 1457.3,1238.5 1457.7,1241.0 C1458.1,1243.5 1458.5,1245.9 1458.8,1248.4 C1459.2,1250.9 1459.6,1253.3 1460.0,1255.8 C1460.4,1258.3 1460.8,1260.7 1461.1,1263.2 C1461.5,1265.7 1461.9,1268.1 1462.3,1270.6 C1462.7,1273.1 1463.0,1275.5 1463.4,1278.0 C1463.8,1280.5 1464.2,1283.0 1464.5,1285.4 C1464.9,1287.9 1465.3,1290.4 1465.7,1292.8 C1466.1,1295.3 1466.4,1297.8 1466.8,1300.3 C1467.2,1302.7 1467.5,1305.2 1467.9,1307.7 C1468.3,1310.2 1468.7,1312.6 1469.0,1315.1 C1469.4,1317.6 1469.8,1320.1 1470.2,1322.6 C1470.5,1325.0 1470.9,1327.5 1471.3,1330.0 C1471.6,1332.5 1472.0,1334.9 1472.4,1337.4 C1472.7,1339.9 1473.1,1342.4 1473.5,1344.9 C1473.8,1347.3 1474.2,1349.8 1474.6,1352.3 C1474.9,1354.8 1475.3,1357.3 1475.7,1359.7 C1476.0,1362.2 1476.4,1364.7 1476.8,1367.2 C1477.1,1369.7 1477.5,1372.2 1477.9,1374.6 C1478.2,1377.1 1478.6,1379.6 1478.9,1382.1 C1479.3,1384.6 1479.7,1387.1 1480.0,1389.5 C1480.4,1392.0 1480.7,1394.5 1481.1,1397.0 C1481.4,1399.5 1481.8,1402.0 1482.2,1404.5 C1482.5,1406.9 1482.9,1409.4 1483.2,1411.9 C1483.6,1414.4 1483.9,1416.9 1484.3,1419.4 C1484.6,1421.9 1485.0,1424.3 1485.3,1426.8 C1485.7,1429.3 1486.0,1431.8 1486.4,1434.3 C1486.7,1436.8 1487.1,1439.3 1487.4,1441.8 C1487.8,1444.2 1488.1,1446.7 1488.5,1449.2 C1488.8,1451.7 1489.2,1454.2 1489.5,1456.7 C1489.8,1459.2 1490.2,1461.7 1490.5,1464.2 C1490.9,1466.6 1491.2,1469.1 1491.5,1471.6 C1491.9,1474.1 1492.2,1476.6 1492.6,1479.1 C1492.9,1481.6 1493.2,1484.1 1493.6,1486.5 C1493.9,1489.0 1494.2,1491.5 1494.6,1494.0 C1494.9,1496.5 1495.2,1499.0 1495.6,1501.5 C1495.9,1504.0 1496.2,1506.5 1496.6,1508.9 C1496.9,1511.4 1497.2,1513.9 1497.5,1516.4 C1497.9,1518.9 1498.2,1521.4 1498.5,1523.9 C1498.9,1526.4 1499.2,1528.8 1499.5,1531.3 C1499.8,1533.8 1500.1,1536.3 1500.5,1538.8 C1500.8,1541.3 1501.1,1543.8 1501.4,1546.3 C1501.7,1548.7 1502.1,1551.2 1502.4,1553.7 C1502.7,1556.2 1503.0,1558.7 1503.3,1561.2 C1503.6,1563.7 1504.0,1566.1 1504.3,1568.6 C1504.6,1571.1 1504.9,1573.6 1505.2,1576.1 C1505.5,1578.6 1505.8,1581.1 1506.1,1583.5 C1506.4,1586.0 1506.7,1588.5 1507.0,1591.0 C1507.3,1593.5 1507.6,1596.0 1507.9,1598.4 C1508.2,1600.9 1508.6,1603.4 1508.9,1605.9 C1509.2,1608.4 1509.4,1610.9 1509.7,1613.3 C1510.0,1615.8 1510.3,1618.3 1510.6,1620.8 C1510.9,1623.3 1511.2,1625.7 1511.5,1628.2 C1511.8,1630.7 1512.1,1633.2 1512.4,1635.7 C1512.7,1638.1 1513.0,1640.6 1513.3,1643.1 C1513.5,1645.6 1513.8,1648.1 1514.1,1650.5 C1514.4,1653.0 1514.7,1655.5 1515.0,1658.0 C1515.2,1660.4 1515.5,1662.9 1515.8,1665.4 C1516.1,1667.9 1516.4,1670.3 1516.6,1672.8 C1516.9,1675.3 1517.2,1677.8 1517.5,1680.2 C1517.7,1682.7 1518.0,1685.2 1518.3,1687.7 C1518.5,1690.1 1518.3,1690.7 1519.1,1695.1 C1519.9,1699.5 1522.1,1708.8 1523.2,1714.0 C1524.3,1719.2 1524.8,1722.6 1525.6,1726.0 C1526.4,1729.4 1526.9,1732.1 1527.8,1734.5 C1528.7,1736.9 1529.5,1738.7 1530.8,1740.2 C1532.1,1741.7 1533.5,1742.6 1535.5,1743.3 C1537.5,1744.0 1539.8,1744.3 1543.0,1744.6 C1546.2,1744.9 1547.2,1745.0 1555.0,1745.1 C1562.8,1745.2 1579.2,1745.3 1590.0,1745.4 C1600.8,1745.5 1609.4,1745.6 1620.0,1745.7 C1630.6,1745.8 1648.1,1746.0 1653.7,1746.1" stroke="#3c3cd8"/>
<path d="M417.1,668.9 C417.9,668.7 420.0,667.9 421.4,667.5 C422.8,667.1 424.2,666.8 425.7,666.5 C427.1,666.3 428.6,666.1 430.0,665.9 C431.5,665.8 432.9,665.7 434.4,665.6 C435.9,665.5 437.4,665.5 438.8,665.5 C440.3,665.5 441.8,665.5 443.3,665.5 C444.8,665.5 446.3,665.6 447.8,665.7 C449.2,665.7 450.7,665.8 452.2,665.9 C453.7,665.9 455.2,666.0 456.7,666.0 C458.2,666.1 459.6,666.2 461.1,666.2 C462.6,666.3 464.1,666.3 465.6,666.4 C467.1,666.5 468.5,666.5 470.0,666.6 C471.5,666.6 473.0,666.7 474.5,666.7 C475.9,666.8 477.4,666.9 478.9,666.9 C480.4,667.0 481.8,667.0 483.3,667.1 C484.8,667.1 486.3,667.2 487.7,667.2 C489.2,667.3 490.7,667.4 492.2,667.4 C493.6,667.5 495.1,667.5 496.6,667.6 C498.1,667.6 499.5,667.7 501.0,667.7 C502.5,667.8 504.0,667.9 505.5,667.9 C506.9,668.0 508.4,668.0 509.9,668.1 C511.4,668.1 512.8,668.2 514.3,668.3 C515.8,668.3 517.3,668.4 518.7,668.4 C520.2,668.5 521.7,668.5 523.2,668.6 C524.6,668.7 526.1,668.7 527.6,668.8 C529.1,668.8 530.6,668.9 532.0,668.9 C533.5,669.0 535.0,669.0 536.5,669.1 C537.9,669.1 539.4,669.2 540.9,669.2 C542.4,669.3 543.9,669.3 545.3,669.4 C546.8,669.4 548.3,669.5 549.8,669.5 C551.3,669.6 552.7,669.6 554.2,669.7 C555.7,669.7 557.2,669.8 558.7,669.8 C560.1,669.9 561.6,669.9 563.1,670.0 C564.6,670.0 566.1,670.0 567.6,670.1 C569.0,670.1 570.5,670.2 572.0,670.2 C573.5,670.2 575.0,670.3 576.5,670.3 C577.9,670.4 579.4,670.4 580.9,670.4 C582.4,670.5 583.9,670.5 585.4,670.5 C586.9,670.6 588.4,670.6 589.8,670.7 C591.3,670.7 592.8,670.8 594.2,671.0 C595.7,671.2 597.1,671.4 598.5,671.7 C599.9,672.1 601.3,672.5 602.6,673.1 C604.0,673.6 605.3,674.4 606.6,675.0 C607.9,675.6 609.2,676.4 610.5,677.0 C611.9,677.5 613.2,678.0 614.6,678.4 C616.0,678.8 617.4,679.1 618.9,679.4 C620.3,679.7 621.7,679.9 623.2,680.1 C624.6,680.3 626.0,680.5 627.5,680.7 C628.9,680.9 630.4,681.0 631.8,681.2 C633.3,681.3 634.8,681.4 636.2,681.5 C637.7,681.6 639.1,681.7 640.6,681.8 C642.1,681.9 643.6,682.0 645.0,682.0 C646.5,682.1 648.0,682.2 649.5,682.2 C650.9,682.2 652.4,682.3 653.9,682.3 C655.4,682.3 656.9,682.4 658.3,682.4 C659.8,682.4 661.3,682.4 662.8,682.4 C664.3,682.5 665.8,682.5 667.3,682.5 C668.7,682.5 670.2,682.5 671.7,682.5 C673.2,682.6 674.7,682.6 676.2,682.6 C677.7,682.6 679.1,682.6 680.6,682.7 C682.1,682.7 683.6,682.7 685.1,682.7 C686.6,682.8 688.0,682.8 689.5,682.8 C691.0,682.8 692.5,682.9 694.0,682.9 C695.5,682.9 696.9,682.9 698.4,683.0 C699.9,683.0 701.4,683.0 702.9,683.1 C704.4,683.1 705.8,683.1 707.3,683.2 C708.8,683.2 710.3,683.2 711.8,683.3 C713.2,683.3 714.7,683.4 716.2,683.4 C717.7,683.4 719.2,683.5 720.6,683.5 C722.1,683.5 723.6,683.6 725.1,683.6 C726.6,683.7 728.0,683.7 729.5,683.8 C731.0,683.8 732.5,683.9 734.0,683.9 C735.4,683.9 736.9,684.0 738.4,684.0 C739.9,684.1 741.4,684.1 742.8,684.2 C744.3,684.2 745.8,684.3 747.3,684.3 C748.8,684.4 750.2,684.5 751.7,684.5 C753.2,684.6 754.7,684.6 756.1,684.7 C757.6,684.7 759.1,684.8 760.6,684.8 C762.1,684.9 763.5,685.0 765.0,685.0 C766.5,685.1 768.0,685.1 769.4,685.2 C770.9,685.3 772.4,685.3 773.9,685.4 C775.4,685.5 776.8,685.5 778.3,685.6 C779.8,685.6 781.3,685.7 782.7,685.8 C784.2,685.9 785.7,685.9 787.2,686.0 C788.6,686.1 790.1,686.1 791.6,686.2 C793.1,686.3 794.5,686.3 796.0,686.4 C797.5,686.5 799.0,686.6 800.4,686.6 C801.9,686.7 803.4,686.8 804.9,686.9 C806.4,686.9 807.8,687.0 809.3,687.1 C810.8,687.2 812.3,687.3 813.7,687.3 C815.2,687.4 816.7,687.5 818.2,687.6 C819.6,687.7 821.1,687.7 822.6,687.8 C824.1,687.9 825.5,688.0 827.0,688.1 C828.5,688.2 830.0,688.2 831.4,688.3 C832.9,688.4 834.4,688.5 835.9,688.6 C837.3,688.7 838.8,688.8 840.3,688.9 C841.8,689.0 843.2,689.0 844.7,689.1 C846.2,689.2 847.7,689.3 849.1,689.4 C850.6,689.5 852.1,689.6 853.6,689.7 C855.0,689.8 856.5,689.9 858.0,690.0 C859.5,690.1 860.9,690.2 862.4,690.3 C863.9,690.4 865.4,690.5 866.8,690.6 C868.3,690.7 869.8,690.8 871.3,690.9 C872.7,691.0 874.2,691.1 875.7,691.2 C877.2,691.3 878.6,691.4 880.1,691.5 C881.6,691.6 883.1,691.7 884.5,691.8 C886.0,691.9 887.5,692.0 889.0,692.1 C890.4,692.3 891.9,692.4 893.4,692.5 C894.9,692.6 896.3,692.7 897.8,692.8 C899.3,692.9 900.8,693.0 902.2,693.1 C903.7,693.3 905.2,693.4 906.7,693.5 C908.1,693.6 909.6,693.7 911.1,693.8 C912.6,693.9 914.0,694.1 915.5,694.2 C917.0,694.3 918.5,694.4 920.0,694.5 C921.4,694.6 922.9,694.8 924.4,694.9 C925.9,695.0 927.3,695.1 928.8,695.2 C930.3,695.4 931.8,695.5 933.2,695.6 C934.7,695.7 936.2,695.8 937.7,696.0 C939.1,696.1 940.6,696.2 942.1,696.3 C943.6,696.5 945.0,696.6 946.5,696.7 C948.0,696.8 949.5,696.9 950.9,697.1 C952.4,697.2 953.9,697.3 955.4,697.4 C956.8,697.6 958.3,697.7 959.8,697.8 C961.3,698.0 962.7,698.1 964.2,698.2 C965.7,698.3 967.1,698.5 968.6,698.6 C970.1,698.7 971.6,698.9 973.0,699.0 C974.5,699.1 976.0,699.2 977.5,699.4 C978.9,699.5 980.4,699.6 981.9,699.8 C983.4,699.9 984.8,700.0 986.3,700.2 C987.8,700.3 989.2,700.4 990.7,700.5 C992.2,700.7 993.7,700.8 995.1,700.9 C996.6,701.1 998.1,701.2 999.5,701.3 C1001.0,701.5 1002.5,701.6 1004.0,701.7 C1005.4,701.9 1006.9,702.0 1008.4,702.1 C1009.9,702.2 1011.3,702.4 1012.8,702.5 C1014.3,702.6 1015.7,702.8 1017.2,702.9 C1018.7,703.0 1020.2,703.1 1021.6,703.3 C1023.1,703.4 1024.6,703.5 1026.0,703.6 C1027.5,703.8 1029.0,703.9 1030.5,704.0 C1031.9,704.1 1033.4,704.2 1034.9,704.4 C1036.4,704.5 1037.8,704.6 1039.3,704.7 C1040.8,704.8 1042.4,705.0 1043.7,705.1 C1045.0,705.2 1046.1,705.2 1047.3,705.3 C1048.5,705.4 1049.7,705.5 1050.9,705.6 C1052.1,705.7 1053.3,705.8 1054.5,705.8 C1055.7,705.9 1056.9,706.0 1058.1,706.1 C1059.3,706.2 1060.5,706.3 1061.7,706.3 C1062.9,706.4 1064.1,706.5 1065.3,706.6 C1066.5,706.7 1067.7,706.8 1068.9,706.8 C1070.1,706.9 1071.3,707.0 1072.4,707.1 C1073.6,707.1 1074.8,707.2 1076.0,707.3 C1077.2,707.4 1078.4,707.5 1079.6,707.5 C1080.8,707.6 1081.9,707.7 1083.1,707.7 C1084.3,707.8 1085.5,707.9 1086.7,708.0 C1087.9,708.0 1089.1,708.1 1090.2,708.2 C1091.4,708.2 1092.6,708.3 1093.8,708.4 C1095.0,708.4 1096.2,708.5 1097.4,708.6 C1098.6,708.6 1099.7,708.7 1100.9,708.7 C1102.1,708.8 1103.3,708.9 1104.5,708.9 C1105.7,709.0 1106.9,709.0 1108.1,709.1 C1109.3,709.1 1110.5,709.2 1111.7,709.2 C1112.9,709.3 1114.1,709.3 1115.3,709.4 C1116.5,709.4 1117.7,709.5 1118.9,709.5 C1120.1,709.6 1121.3,709.6 1122.5,709.7 C1123.7,709.7 1124.9,709.8 1126.1,709.8 C1127.3,709.8 1128.5,709.9 1129.7,709.9 C1130.9,709.9 1132.2,710.0 1133.4,710.0 C1134.6,710.1 1135.8,710.1 1137.0,710.1 C1138.2,710.2 1139.4,710.2 1140.7,710.2 C1141.9,710.3 1143.1,710.3 1144.3,710.3 C1145.5,710.4 1146.7,710.4 1148.0,710.4 C1149.2,710.5 1150.4,710.5 1151.6,710.5 C1152.8,710.6 1154.1,710.6 1155.3,710.6 C1156.5,710.7 1157.7,710.7 1159.0,710.8 C1160.2,710.8 1161.4,710.8 1162.6,710.9 C1163.9,710.9 1165.1,710.9 1166.3,711.0 C1167.5,711.0 1168.8,711.1 1170.0,711.1 C1171.2,711.1 1172.4,711.2 1173.7,711.2 C1174.9,711.3 1176.1,711.3 1177.3,711.4 C1178.6,711.4 1179.8,711.5 1181.0,711.5 C1182.2,711.5 1183.5,711.6 1184.7,711.7 C1185.9,711.7 1187.1,711.8 1188.3,711.8 C1189.6,711.9 1190.8,711.9 1192.0,712.0 C1193.2,712.1 1194.5,712.1 1195.7,712.2 C1196.9,712.3 1198.1,712.3 1199.3,712.4 C1200.6,712.5 1201.8,712.5 1203.0,712.6 C1204.2,712.7 1205.4,712.8 1206.7,712.8 C1207.9,712.9 1209.1,713.0 1210.3,713.1 C1211.5,713.2 1212.7,713.3 1214.0,713.4 C1215.2,713.5 1216.4,713.6 1217.6,713.7 C1218.8,713.8 1220.0,713.9 1221.2,714.0 C1222.4,714.1 1223.7,714.2 1224.9,714.3 C1226.1,714.4 1227.3,714.6 1228.5,714.7 C1229.7,714.8 1230.9,714.9 1232.1,715.1 C1233.3,715.2 1234.5,715.3 1235.7,715.5 C1236.9,715.6 1238.1,715.8 1239.3,715.9 C1240.5,716.0 1241.7,716.2 1242.9,716.4 C1244.1,716.5 1245.2,716.7 1246.4,716.9 C1247.6,717.0 1248.8,717.2 1250.0,717.4 C1251.2,717.6 1252.4,717.7 1253.5,717.9 C1254.7,718.1 1255.9,718.3 1257.1,718.5 C1258.3,718.7 1259.4,718.9 1260.6,719.1 C1261.8,719.3 1262.9,719.5 1264.1,719.8 C1265.3,720.0 1266.4,720.2 1267.6,720.5 C1268.8,720.7 1269.9,720.9 1271.1,721.2 C1272.2,721.4 1273.4,721.7 1274.6,721.9 C1275.7,722.2 1276.9,722.5 1278.0,722.7 C1279.2,723.0 1280.3,723.3 1281.4,723.6 C1282.6,723.9 1283.7,724.1 1284.9,724.4 C1286.0,724.7 1287.1,725.0 1288.3,725.4 C1289.4,725.7 1290.5,726.0 1291.6,726.3 C1292.8,726.6 1293.9,727.0 1295.0,727.3 C1296.1,727.7 1297.2,728.0 1298.3,728.4 C1299.5,728.7 1300.6,729.1 1301.7,729.5 C1302.8,729.8 1303.9,730.2 1305.0,730.6 C1306.1,731.0 1307.2,731.4 1308.3,731.8 C1309.3,732.2 1310.4,732.6 1311.5,733.0 C1312.6,733.5 1313.7,733.9 1314.8,734.3 C1315.8,734.8 1316.9,735.2 1318.0,735.7 C1319.0,736.1 1320.1,736.6 1321.2,737.1 C1322.2,737.5 1323.3,738.0 1324.3,738.5 C1325.4,739.0 1326.4,739.5 1327.5,740.0 C1328.5,740.5 1329.6,741.0 1330.6,741.6 C1331.6,742.1 1332.7,742.6 1333.7,743.2 C1334.7,743.7 1335.8,744.3 1336.8,744.9 C1337.8,745.4 1338.8,746.0 1339.8,746.6 C1340.8,747.2 1341.8,747.8 1342.8,748.4 C1343.8,749.0 1344.8,749.6 1345.8,750.2 C1346.8,750.9 1347.8,751.5 1348.8,752.1 C1349.8,752.8 1350.7,753.5 1351.7,754.1 C1352.7,754.8 1353.6,755.5 1354.6,756.2 C1355.6,756.9 1356.5,757.6 1357.5,758.3 C1358.4,759.0 1359.4,759.7 1360.3,760.4 C1361.3,761.2 1362.2,761.9 1363.1,762.7 C1364.1,763.4 1365.0,764.2 1365.9,765.0 C1366.9,765.8 1367.8,766.5 1368.7,767.3 C1369.6,768.1 1370.5,768.9 1371.4,769.7 C1372.4,770.5 1373.3,771.3 1374.2,772.1 C1375.1,772.9 1376.0,773.7 1376.9,774.6 C1377.8,775.4 1378.7,776.2 1379.6,777.0 C1380.5,777.8 1381.5,778.7 1382.4,779.5 C1383.3,780.3 1384.2,781.1 1385.1,781.9 C1386.0,782.8 1386.9,783.6 1387.8,784.4 C1388.7,785.2 1389.7,786.0 1390.6,786.8 C1391.5,787.6 1392.4,788.4 1393.4,789.2 C1394.3,790.0 1395.2,790.8 1396.1,791.6 C1397.1,792.4 1398.0,793.2 1399.0,793.9 C1399.9,794.7 1400.9,795.5 1401.8,796.2 C1402.8,797.0 1403.7,797.7 1404.7,798.4 C1405.7,799.2 1406.6,799.9 1407.6,800.6 C1408.6,801.4 1409.5,802.1 1410.5,802.8 C1411.5,803.5 1412.5,804.2 1413.5,804.9 C1414.5,805.5 1415.5,806.2 1416.5,806.9 C1417.4,807.6 1418.5,808.2 1419.5,808.9 C1420.5,809.5 1421.5,810.2 1422.5,810.8 C1423.5,811.5 1424.5,812.1 1425.5,812.7 C1426.6,813.3 1427.6,813.9 1428.6,814.5 C1429.7,815.1 1430.7,815.7 1431.7,816.3 C1432.8,816.9 1433.8,817.5 1434.9,818.0 C1435.9,818.6 1437.0,819.2 1438.0,819.7 C1439.1,820.3 1440.1,820.8 1441.2,821.3 C1442.3,821.8 1443.3,822.4 1444.4,822.9 C1445.5,823.4 1446.6,823.9 1447.6,824.4 C1448.7,824.9 1449.8,825.3 1450.9,825.8 C1452.0,826.3 1453.1,826.7 1454.2,827.2 C1455.2,827.6 1456.3,828.1 1457.4,828.5 C1458.5,828.9 1459.7,829.3 1460.8,829.8 C1461.9,830.2 1463.0,830.6 1464.1,831.0 C1465.2,831.3 1466.3,831.7 1467.5,832.1 C1468.6,832.5 1469.7,832.8 1470.8,833.2 C1472.0,833.5 1473.1,833.9 1474.2,834.2 C1475.4,834.5 1476.5,834.9 1477.7,835.2 C1478.8,835.5 1479.9,835.8 1481.1,836.1 C1482.2,836.4 1483.4,836.7 1484.5,837.0 C1485.7,837.3 1486.9,837.5 1488.0,837.8 C1489.2,838.1 1490.3,838.3 1491.5,838.6 C1492.7,838.8 1493.8,839.1 1495.0,839.3 C1496.2,839.6 1497.3,839.8 1498.5,840.0 C1499.7,840.3 1500.9,840.5 1502.0,840.7 C1503.2,840.9 1504.4,841.1 1505.6,841.3 C1506.8,841.5 1507.9,841.7 1509.1,841.9 C1510.3,842.1 1511.5,842.3 1512.7,842.4 C1513.9,842.6 1515.1,842.8 1516.3,843.0 C1517.5,843.1 1518.7,843.3 1519.9,843.4 C1521.0,843.6 1522.2,843.8 1523.4,843.9 C1524.6,844.1 1525.8,844.2 1527.0,844.3 C1528.3,844.5 1529.5,844.6 1530.7,844.7 C1531.9,844.9 1533.1,845.0 1534.3,845.1 C1535.5,845.2 1536.7,845.4 1537.9,845.5 C1539.1,845.6 1540.3,845.7 1541.5,845.8 C1542.7,845.9 1544.0,846.0 1545.2,846.1 C1546.4,846.2 1547.6,846.3 1548.8,846.4 C1550.0,846.5 1551.2,846.6 1552.4,846.7 C1553.7,846.8 1554.9,846.9 1556.1,847.0 C1557.3,847.1 1558.5,847.1 1559.7,847.2 C1561.0,847.3 1562.2,847.4 1563.4,847.5 C1564.6,847.6 1565.8,847.6 1567.0,847.7 C1568.3,847.8 1569.5,847.9 1570.7,847.9 C1571.9,848.0 1573.1,848.1 1574.3,848.2 C1575.5,848.2 1576.8,848.3 1578.0,848.4 C1579.2,848.5 1580.4,848.5 1581.6,848.6 C1582.8,848.7 1584.1,848.8 1585.3,848.8 C1586.5,848.9 1587.7,849.0 1588.9,849.1 C1590.1,849.1 1591.3,849.2 1592.5,849.3 C1593.7,849.4 1595.0,849.5 1596.2,849.5 C1597.4,849.6 1598.6,849.7 1599.8,849.8 C1601.0,849.9 1602.2,849.9 1603.4,850.0 C1604.6,850.1 1605.8,850.2 1607.0,850.3 C1608.2,850.4 1609.4,850.5 1610.6,850.6 C1611.8,850.7 1613.0,850.8 1614.2,850.9 C1615.4,851.0 1616.6,851.1 1617.8,851.2 C1619.0,851.3 1620.2,851.4 1621.4,851.5 C1622.5,851.6 1623.7,851.7 1624.9,851.8 C1626.1,852.0 1627.3,852.1 1628.5,852.2 C1629.7,852.3 1630.8,852.5 1632.0,852.6 C1633.2,852.7 1634.4,852.9 1635.5,853.0 C1636.7,853.2 1637.9,853.3 1639.0,853.5 C1640.2,853.6 1641.4,853.8 1642.5,853.9 C1643.7,854.1 1644.9,854.3 1646.0,854.4 C1647.2,854.6 1648.3,854.8 1649.5,855.0 C1650.6,855.2 1652.4,855.4 1652.9,855.5" stroke="#b0385e"/>
<path d="M417.2,668.1 C417.9,668.1 420.1,668.2 421.6,668.2 C423.1,668.3 424.5,668.3 426.0,668.4 C427.5,668.4 428.9,668.5 430.4,668.5 C431.9,668.6 433.4,668.6 434.8,668.7 C436.3,668.7 437.8,668.8 439.2,668.8 C440.7,668.9 442.2,668.9 443.6,669.0 C445.1,669.1 446.6,669.1 448.1,669.2 C449.5,669.2 451.0,669.3 452.5,669.3 C453.9,669.4 455.4,669.5 456.9,669.5 C458.4,669.6 459.8,669.6 461.3,669.7 C462.8,669.8 464.2,669.8 465.7,669.9 C467.2,669.9 468.7,670.0 470.1,670.1 C471.6,670.1 473.1,670.2 474.5,670.3 C476.0,670.3 477.5,670.4 479.0,670.5 C480.4,670.5 481.9,670.6 483.4,670.6 C484.8,670.7 486.3,670.8 487.8,670.8 C489.3,670.9 490.7,671.0 492.2,671.0 C493.7,671.1 495.1,671.2 496.6,671.2 C498.1,671.3 499.6,671.4 501.0,671.5 C502.5,671.5 504.0,671.6 505.4,671.7 C506.9,671.7 508.4,671.8 509.9,671.9 C511.3,671.9 512.8,672.0 514.3,672.1 C515.7,672.1 517.2,672.2 518.7,672.3 C520.2,672.4 521.6,672.4 523.1,672.5 C524.6,672.6 526.0,672.6 527.5,672.7 C529.0,672.8 530.5,672.9 531.9,672.9 C533.4,673.0 534.9,673.1 536.3,673.1 C537.8,673.2 539.3,673.3 540.8,673.4 C542.2,673.4 543.7,673.5 545.2,673.6 C546.6,673.6 548.1,673.7 549.6,673.8 C551.1,673.9 552.5,673.9 554.0,674.0 C555.5,674.1 557.0,674.1 558.4,674.2 C559.9,674.3 561.4,674.4 562.8,674.4 C564.3,674.5 565.8,674.6 567.3,674.6 C568.7,674.7 570.2,674.8 571.7,674.9 C573.1,674.9 574.6,675.0 576.1,675.1 C577.6,675.1 579.0,675.2 580.5,675.3 C582.0,675.3 583.4,675.4 584.9,675.5 C586.4,675.6 587.9,675.6 589.3,675.7 C590.8,675.8 592.3,675.8 593.7,675.9 C595.2,676.0 596.7,676.0 598.2,676.1 C599.6,676.2 601.1,676.2 602.6,676.3 C604.1,676.4 605.5,676.4 607.0,676.5 C608.5,676.6 609.9,676.6 611.4,676.7 C612.9,676.8 614.4,676.8 615.8,676.9 C617.3,677.0 618.8,677.0 620.2,677.1 C621.7,677.2 623.2,677.2 624.7,677.3 C626.1,677.4 627.6,677.4 629.1,677.5 C630.6,677.6 632.0,677.6 633.5,677.7 C635.0,677.8 636.4,677.8 637.9,677.9 C639.4,678.0 640.9,678.0 642.3,678.1 C643.8,678.2 645.3,678.2 646.7,678.3 C648.2,678.4 649.7,678.4 651.2,678.5 C652.6,678.6 654.1,678.6 655.6,678.7 C657.1,678.8 658.5,678.8 660.0,678.9 C661.5,678.9 662.9,679.0 664.4,679.1 C665.9,679.1 667.4,679.2 668.8,679.3 C670.3,679.3 671.8,679.4 673.3,679.5 C674.7,679.5 676.2,679.6 677.7,679.7 C679.1,679.7 680.6,679.8 682.1,679.9 C683.6,679.9 685.0,680.0 686.5,680.1 C688.0,680.1 689.4,680.2 690.9,680.3 C692.4,680.3 693.9,680.4 695.3,680.5 C696.8,680.5 698.3,680.6 699.8,680.7 C701.2,680.7 702.7,680.8 704.2,680.8 C705.6,680.9 707.1,681.0 708.6,681.0 C710.1,681.1 711.5,681.2 713.0,681.2 C714.5,681.3 715.9,681.4 717.4,681.4 C718.9,681.5 720.4,681.6 721.8,681.7 C723.3,681.7 724.8,681.8 726.3,681.9 C727.7,681.9 729.2,682.0 730.7,682.1 C732.1,682.1 733.6,682.2 735.1,682.3 C736.6,682.3 738.0,682.4 739.5,682.5 C741.0,682.5 742.4,682.6 743.9,682.7 C745.4,682.7 746.9,682.8 748.3,682.9 C749.8,683.0 751.3,683.0 752.7,683.1 C754.2,683.2 755.7,683.2 757.2,683.3 C758.6,683.4 760.1,683.5 761.6,683.5 C763.0,683.6 764.5,683.7 766.0,683.7 C767.5,683.8 768.9,683.9 770.4,684.0 C771.9,684.0 773.4,684.1 774.8,684.2 C776.3,684.3 777.8,684.3 779.2,684.4 C780.7,684.5 782.2,684.6 783.7,684.6 C785.1,684.7 786.6,684.8 788.1,684.9 C789.5,684.9 791.0,685.0 792.5,685.1 C794.0,685.2 795.4,685.2 796.9,685.3 C798.4,685.4 799.8,685.5 801.3,685.5 C802.8,685.6 804.3,685.7 805.7,685.8 C807.2,685.9 808.7,685.9 810.1,686.0 C811.6,686.1 813.1,686.2 814.6,686.3 C816.0,686.3 817.5,686.4 819.0,686.5 C820.4,686.6 821.9,686.7 823.4,686.7 C824.9,686.8 826.3,686.9 827.8,687.0 C829.3,687.1 830.7,687.2 832.2,687.2 C833.7,687.3 835.1,687.4 836.6,687.5 C838.1,687.6 839.6,687.7 841.0,687.7 C842.5,687.8 844.0,687.9 845.4,688.0 C846.9,688.1 848.4,688.2 849.9,688.3 C851.3,688.3 852.8,688.4 854.3,688.5 C855.7,688.6 857.2,688.7 858.7,688.8 C860.2,688.9 861.6,689.0 863.1,689.0 C864.6,689.1 866.0,689.2 867.5,689.3 C869.0,689.4 870.4,689.5 871.9,689.6 C873.4,689.7 874.9,689.8 876.3,689.9 C877.8,690.0 879.3,690.0 880.7,690.1 C882.2,690.2 883.7,690.3 885.2,690.4 C886.6,690.5 888.1,690.6 889.6,690.7 C891.0,690.8 892.5,690.9 894.0,691.0 C895.4,691.1 896.9,691.2 898.4,691.3 C899.9,691.4 901.3,691.5 902.8,691.6 C904.3,691.7 905.7,691.8 907.2,691.9 C908.7,692.0 910.2,692.1 911.6,692.2 C913.1,692.3 914.6,692.4 916.0,692.5 C917.5,692.6 919.0,692.7 920.4,692.8 C921.9,692.9 923.4,693.0 924.9,693.1 C926.3,693.2 927.8,693.3 929.3,693.4 C930.7,693.5 932.2,693.6 933.7,693.7 C935.1,693.8 936.6,693.9 938.1,694.0 C939.5,694.1 941.0,694.3 942.5,694.4 C944.0,694.5 945.4,694.6 946.9,694.7 C948.4,694.8 949.8,694.9 951.3,695.0 C952.8,695.1 954.2,695.2 955.7,695.3 C957.2,695.4 958.7,695.5 960.1,695.6 C961.6,695.8 963.1,695.9 964.5,696.0 C966.0,696.1 967.5,696.2 968.9,696.3 C970.4,696.4 971.9,696.5 973.4,696.6 C974.8,696.7 976.3,696.8 977.8,696.9 C979.2,697.0 980.7,697.1 982.2,697.2 C983.6,697.3 985.1,697.5 986.6,697.6 C988.1,697.7 989.5,697.8 991.0,697.9 C992.5,698.0 993.9,698.1 995.4,698.2 C996.9,698.3 998.3,698.4 999.8,698.5 C1001.3,698.6 1002.8,698.7 1004.2,698.8 C1005.7,698.9 1007.2,699.0 1008.6,699.1 C1010.1,699.2 1011.6,699.3 1013.0,699.4 C1014.5,699.5 1016.0,699.6 1017.5,699.6 C1018.9,699.7 1020.4,699.8 1021.9,699.9 C1023.3,700.0 1024.8,700.1 1026.3,700.2 C1027.8,700.3 1029.2,700.4 1030.7,700.5 C1032.2,700.5 1033.6,700.6 1035.1,700.7 C1036.6,700.8 1038.0,700.9 1039.5,701.0 C1041.0,701.0 1042.6,701.1 1043.9,701.2 C1045.2,701.3 1046.2,701.3 1047.4,701.4 C1048.5,701.5 1049.7,701.5 1050.8,701.6 C1052.0,701.6 1053.1,701.7 1054.3,701.7 C1055.4,701.8 1056.5,701.9 1057.7,701.9 C1058.8,702.0 1060.0,702.0 1061.1,702.1 C1062.3,702.1 1063.4,702.2 1064.6,702.2 C1065.7,702.3 1066.9,702.3 1068.0,702.4 C1069.2,702.4 1070.3,702.5 1071.5,702.5 C1072.6,702.5 1073.8,702.6 1074.9,702.6 C1076.0,702.7 1077.2,702.7 1078.3,702.8 C1079.5,702.8 1080.6,702.8 1081.8,702.9 C1082.9,702.9 1084.1,703.0 1085.2,703.0 C1086.4,703.0 1087.5,703.1 1088.7,703.1 C1089.8,703.1 1091.0,703.2 1092.1,703.2 C1093.3,703.2 1094.4,703.3 1095.6,703.3 C1096.7,703.3 1097.8,703.4 1099.0,703.4 C1100.1,703.4 1101.3,703.5 1102.4,703.5 C1103.6,703.5 1104.7,703.6 1105.9,703.6 C1107.0,703.6 1108.2,703.6 1109.3,703.7 C1110.5,703.7 1111.6,703.7 1112.8,703.7 C1113.9,703.8 1115.1,703.8 1116.2,703.8 C1117.4,703.8 1118.5,703.9 1119.7,703.9 C1120.8,703.9 1122.0,703.9 1123.1,703.9 C1124.2,704.0 1125.4,704.0 1126.5,704.0 C1127.7,704.0 1128.8,704.0 1130.0,704.1 C1131.1,704.1 1132.3,704.1 1133.4,704.1 C1134.6,704.1 1135.7,704.2 1136.9,704.2 C1138.0,704.2 1139.2,704.2 1140.3,704.2 C1141.5,704.2 1142.6,704.2 1143.8,704.3 C1144.9,704.3 1146.1,704.3 1147.2,704.3 C1148.4,704.3 1149.5,704.3 1150.7,704.4 C1151.8,704.4 1153.0,704.4 1154.1,704.4 C1155.2,704.4 1156.4,704.4 1157.5,704.4 C1158.7,704.4 1159.8,704.5 1161.0,704.5 C1162.1,704.5 1163.3,704.5 1164.4,704.5 C1165.6,704.5 1166.7,704.5 1167.9,704.5 C1169.0,704.5 1170.2,704.6 1171.3,704.6 C1172.5,704.6 1173.6,704.6 1174.8,704.6 C1175.9,704.6 1177.1,704.6 1178.2,704.6 C1179.4,704.6 1180.5,704.6 1181.7,704.7 C1182.8,704.7 1184.0,704.7 1185.1,704.7 C1186.3,704.7 1187.4,704.7 1188.6,704.7 C1189.7,704.7 1190.8,704.7 1192.0,704.7 C1193.1,704.8 1194.3,704.8 1195.4,704.8 C1196.6,704.8 1197.7,704.8 1198.9,704.8 C1200.0,704.8 1201.2,704.8 1202.3,704.8 C1203.5,704.8 1204.6,704.9 1205.8,704.9 C1206.9,704.9 1208.1,704.9 1209.2,704.9 C1210.4,704.9 1211.5,704.9 1212.7,704.9 C1213.8,704.9 1215.0,705.0 1216.1,705.0 C1217.3,705.0 1218.4,705.0 1219.6,705.0 C1220.7,705.0 1221.9,705.0 1223.0,705.0 C1224.1,705.1 1225.3,705.1 1226.4,705.1 C1227.6,705.1 1228.7,705.1 1229.9,705.1 C1231.0,705.1 1232.2,705.1 1233.3,705.2 C1234.5,705.2 1235.6,705.2 1236.8,705.2 C1237.9,705.2 1239.1,705.2 1240.2,705.3 C1241.4,705.3 1242.5,705.3 1243.7,705.3 C1244.8,705.3 1246.0,705.3 1247.1,705.4 C1248.3,705.4 1249.4,705.4 1250.6,705.4 C1251.7,705.4 1252.9,705.5 1254.0,705.5 C1255.1,705.5 1256.3,705.5 1257.4,705.5 C1258.6,705.6 1259.7,705.6 1260.9,705.6 C1262.0,705.6 1263.2,705.7 1264.3,705.7 C1265.5,705.7 1266.6,705.7 1267.8,705.8 C1268.9,705.8 1270.1,705.8 1271.2,705.8 C1272.4,705.9 1273.5,705.9 1274.7,705.9 C1275.8,705.9 1277.0,706.0 1278.1,706.0 C1279.3,706.0 1280.4,706.1 1281.5,706.1 C1282.7,706.1 1283.8,706.2 1285.0,706.2 C1286.1,706.2 1287.3,706.3 1288.4,706.3 C1289.6,706.3 1290.7,706.4 1291.9,706.4 C1293.0,706.4 1294.2,706.5 1295.3,706.5 C1296.5,706.5 1297.6,706.6 1298.8,706.6 C1299.9,706.7 1301.1,706.7 1302.2,706.8 C1303.3,706.8 1304.5,706.8 1305.6,706.9 C1306.8,706.9 1307.9,707.0 1309.1,707.0 C1310.2,707.1 1311.4,707.1 1312.5,707.2 C1313.7,707.2 1314.8,707.3 1316.0,707.3 C1317.1,707.4 1318.3,707.4 1319.4,707.5 C1320.6,707.5 1321.7,707.6 1322.8,707.6 C1324.0,707.7 1325.1,707.7 1326.3,707.8 C1327.4,707.9 1328.6,707.9 1329.7,708.0 C1330.9,708.0 1332.0,708.1 1333.2,708.2 C1334.3,708.2 1335.5,708.3 1336.6,708.4 C1337.8,708.4 1338.9,708.5 1340.0,708.6 C1341.2,708.6 1342.3,708.7 1343.5,708.8 C1344.6,708.8 1345.8,708.9 1346.9,709.0 C1348.1,709.0 1349.2,709.1 1350.4,709.2 C1351.5,709.3 1352.7,709.4 1353.8,709.4 C1354.9,709.5 1356.1,709.6 1357.2,709.7 C1358.4,709.8 1359.5,709.8 1360.7,709.9 C1361.8,710.0 1363.0,710.1 1364.1,710.2 C1365.3,710.3 1366.4,710.4 1367.5,710.5 C1368.7,710.5 1369.8,710.6 1371.0,710.7 C1372.1,710.8 1373.3,710.9 1374.4,711.0 C1375.6,711.1 1376.7,711.2 1377.9,711.3 C1379.0,711.4 1380.1,711.5 1381.3,711.6 C1382.4,711.7 1383.6,711.8 1384.7,711.9 C1385.9,712.0 1387.0,712.2 1388.2,712.3 C1389.3,712.4 1390.4,712.5 1391.6,712.6 C1392.7,712.7 1393.9,712.8 1395.0,713.0 C1396.2,713.1 1397.3,713.2 1398.4,713.3 C1399.6,713.5 1400.7,713.6 1401.9,713.7 C1403.0,713.9 1404.2,714.0 1405.3,714.1 C1406.4,714.3 1407.6,714.4 1408.7,714.6 C1409.9,714.7 1411.0,714.9 1412.1,715.0 C1413.3,715.2 1414.4,715.3 1415.5,715.5 C1416.7,715.7 1417.8,715.8 1418.9,716.0 C1420.1,716.2 1421.2,716.4 1422.3,716.5 C1423.5,716.7 1424.6,716.9 1425.7,717.1 C1426.9,717.3 1428.0,717.5 1429.1,717.7 C1430.2,717.9 1431.4,718.1 1432.5,718.3 C1433.6,718.5 1434.7,718.7 1435.9,718.9 C1437.0,719.2 1438.1,719.4 1439.2,719.6 C1440.3,719.8 1441.4,720.1 1442.6,720.3 C1443.7,720.6 1444.8,720.8 1445.9,721.1 C1447.0,721.3 1448.1,721.6 1449.2,721.9 C1450.3,722.1 1451.5,722.4 1452.6,722.7 C1453.7,723.0 1454.8,723.3 1455.9,723.6 C1457.0,723.9 1458.1,724.2 1459.2,724.5 C1460.3,724.8 1461.4,725.1 1462.5,725.4 C1463.6,725.7 1464.6,726.1 1465.7,726.4 C1466.8,726.8 1467.9,727.1 1469.0,727.5 C1470.1,727.8 1471.2,728.2 1472.2,728.5 C1473.3,728.9 1474.4,729.3 1475.5,729.7 C1476.6,730.1 1477.6,730.5 1478.7,730.9 C1479.8,731.3 1480.9,731.7 1481.9,732.1 C1483.0,732.5 1484.1,732.9 1485.1,733.3 C1486.2,733.7 1487.3,734.1 1488.3,734.5 C1489.4,735.0 1490.5,735.4 1491.5,735.8 C1492.6,736.2 1493.7,736.7 1494.7,737.1 C1495.8,737.5 1496.9,737.9 1497.9,738.3 C1499.0,738.8 1500.1,739.2 1501.1,739.6 C1502.2,740.0 1503.3,740.4 1504.3,740.8 C1505.4,741.2 1506.5,741.6 1507.6,742.0 C1508.6,742.4 1509.7,742.8 1510.8,743.2 C1511.9,743.6 1512.9,744.0 1514.0,744.3 C1515.1,744.7 1516.2,745.1 1517.3,745.4 C1518.3,745.8 1519.4,746.1 1520.5,746.5 C1521.6,746.8 1522.7,747.1 1523.8,747.5 C1524.9,747.8 1526.0,748.1 1527.1,748.4 C1528.2,748.7 1529.2,749.0 1530.3,749.3 C1531.4,749.6 1532.5,749.9 1533.7,750.2 C1534.8,750.4 1535.9,750.7 1537.0,751.0 C1538.1,751.2 1539.2,751.5 1540.3,751.7 C1541.4,752.0 1542.5,752.2 1543.6,752.5 C1544.7,752.7 1545.9,752.9 1547.0,753.1 C1548.1,753.4 1549.2,753.6 1550.3,753.8 C1551.5,754.0 1552.6,754.2 1553.7,754.4 C1554.8,754.6 1556.0,754.8 1557.1,755.0 C1558.2,755.1 1559.3,755.3 1560.5,755.5 C1561.6,755.7 1562.7,755.8 1563.9,756.0 C1565.0,756.1 1566.1,756.3 1567.3,756.4 C1568.4,756.6 1569.5,756.7 1570.7,756.9 C1571.8,757.0 1573.0,757.1 1574.1,757.3 C1575.2,757.4 1576.4,757.5 1577.5,757.6 C1578.7,757.7 1579.8,757.9 1581.0,758.0 C1582.1,758.1 1583.3,758.2 1584.4,758.3 C1585.6,758.4 1586.7,758.5 1587.9,758.6 C1589.0,758.7 1590.2,758.7 1591.3,758.8 C1592.5,758.9 1593.6,759.0 1594.8,759.1 C1595.9,759.2 1597.1,759.2 1598.2,759.3 C1599.4,759.4 1600.5,759.5 1601.7,759.5 C1602.8,759.6 1604.0,759.7 1605.2,759.8 C1606.3,759.8 1607.5,759.9 1608.6,760.0 C1609.8,760.1 1610.9,760.1 1612.1,760.2 C1613.2,760.3 1614.4,760.3 1615.5,760.4 C1616.7,760.5 1617.8,760.6 1619.0,760.7 C1620.1,760.7 1621.3,760.8 1622.5,760.9 C1623.6,761.0 1624.8,761.1 1625.9,761.2 C1627.0,761.3 1628.2,761.4 1629.3,761.5 C1630.5,761.6 1631.6,761.7 1632.8,761.8 C1633.9,761.9 1635.1,762.0 1636.2,762.1 C1637.3,762.2 1638.5,762.3 1639.6,762.5 C1640.8,762.6 1641.9,762.7 1643.0,762.9 C1644.2,763.0 1645.3,763.2 1646.4,763.3 C1647.6,763.5 1648.7,763.6 1649.8,763.8 C1651.0,764.0 1652.6,764.2 1653.2,764.3" stroke="#8cc87e"/>
</g>
<rect x="313.6" y="1408.8" width="686.4" height="339.6" fill="#ffffff" stroke="#aaaaaa" stroke-width="3.8"/>
<line x1="319.5" y1="1455" x2="473.5" y2="1455" stroke="#ff9030" stroke-width="5"/>
<text transform="translate(490.64,1477.80) scale(0.9630,1)" font-family="'Liberation Sans', Arial, Helvetica, sans-serif" font-size="69.60" fill="#000">ES(t)</text>
<line x1="319.5" y1="1537.6" x2="473.5" y2="1537.6" stroke="#424bd4" stroke-width="5"/>
<text transform="translate(490.64,1560.80) scale(0.9630,1)" font-family="'Liberation Sans', Arial, Helvetica, sans-serif" font-size="69.60" fill="#000">ES(u)</text>
<line x1="319.5" y1="1621.3" x2="473.5" y2="1621.3" stroke="#b8586e" stroke-width="5"/>
<text transform="translate(490.96,1643.60) scale(0.9630,1)" font-family="'Liberation Sans', Arial, Helvetica, sans-serif" font-size="69.60" fill="#000">Apatite(t)-200°C</text>
<line x1="319.5" y1="1703.5" x2="473.5" y2="1703.5" stroke="#9dc98e" stroke-width="5"/>
<text transform="translate(490.96,1725.90) scale(0.9630,1)" font-family="'Liberation Sans', Arial, Helvetica, sans-serif" font-size="69.60" fill="#000">Apatite(u)-200°C</text>
<text transform="translate(252.48,1817.30) scale(0.9700,1)" font-family="'Liberation Sans', Arial, Helvetica, sans-serif" font-weight="bold" font-size="89.00" fill="#000">(a)</text>
</svg>
</body></html>
